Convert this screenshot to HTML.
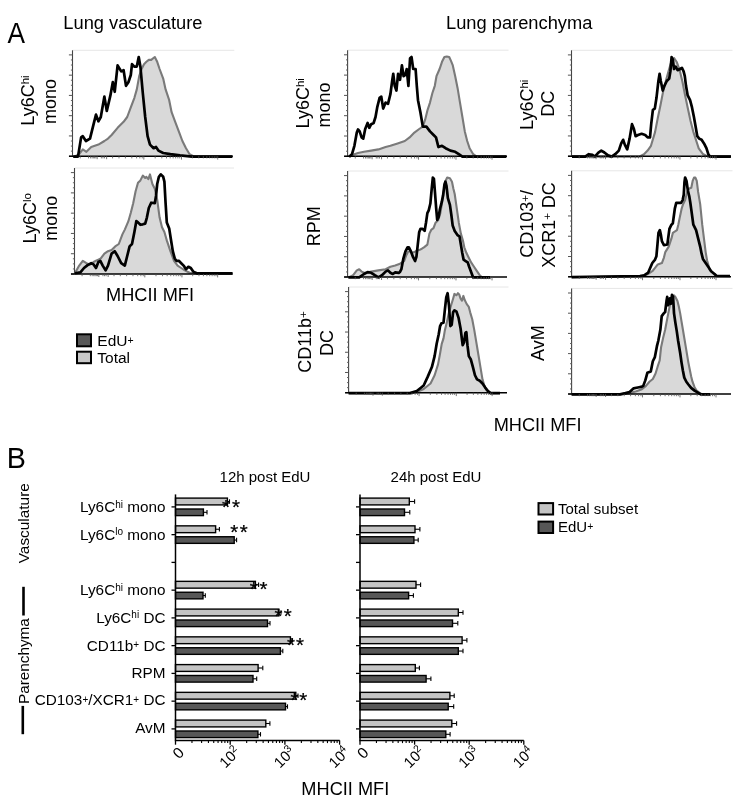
<!DOCTYPE html>
<html><head><meta charset="utf-8"><style>
html,body{margin:0;padding:0;background:#fff;}
body{width:750px;height:804px;overflow:hidden;}
svg{display:block;filter:grayscale(1);}
</style></head><body>
<svg width="750" height="804" viewBox="0 0 750 804">
<rect width="750" height="804" fill="#fff"/>
<line x1="72.5" y1="50.3" x2="234.3" y2="50.3" stroke="#e6e6e6" stroke-width="1"/>
<polygon points="74.4,156.6 79.2,154.2 82.8,149.4 86.4,151.8 91.2,147 98.4,144.6 104.4,141 108,138.6 111.6,135 117.6,127.8 123.6,121.8 127.2,117 130.8,107.4 134.4,97.8 136.8,89.4 139.2,76.2 141.6,69 144,64.2 146.4,61.8 148.8,59.88 151.2,59.88 154.8,57 157.2,61.8 159.6,69 163.2,78.6 165.6,89.4 169.2,100.2 171.6,112.2 175.2,121.8 178.8,131.4 182.4,141 186,148.2 189.6,154.2 194.4,156.6 232.32,156.6 232.32,156.2 74.4,156.2" fill="#d9d9d9" stroke="none"/>
<polyline points="74.4,156.6 79.2,154.2 82.8,149.4 86.4,151.8 91.2,147 98.4,144.6 104.4,141 108,138.6 111.6,135 117.6,127.8 123.6,121.8 127.2,117 130.8,107.4 134.4,97.8 136.8,89.4 139.2,76.2 141.6,69 144,64.2 146.4,61.8 148.8,59.88 151.2,59.88 154.8,57 157.2,61.8 159.6,69 163.2,78.6 165.6,89.4 169.2,100.2 171.6,112.2 175.2,121.8 178.8,131.4 182.4,141 186,148.2 189.6,154.2 194.4,156.6 232.32,156.6" fill="none" stroke="#7a7a7a" stroke-width="2.1" stroke-linejoin="round"/>
<polyline points="73.2,156.6 78,156.6 81.12,137.4 82.8,136.2 85.92,141 90,138.6 93.6,124.2 96,114.6 98.4,121.32 100.8,117 104.4,96.6 106.8,111 110.4,95.4 112.8,82.2 114.72,91.8 117.6,65.4 121.2,71.4 123.6,70.2 126,85.8 128.4,82.2 130.8,75 132,64.2 134.4,66.6 136.8,66.6 138.72,57 140.4,66.6 142.8,93 145.2,117 147.6,136.2 150,144.6 153.6,148.2 156,147 158.4,150.6 163.2,153 170.4,154.2 180,155.4 192,156.6 232.32,156.6" fill="none" stroke="#000" stroke-width="2.7" stroke-linejoin="round"/>
</g>
<line x1="72.5" y1="50.3" x2="72.5" y2="156.2" stroke="#444" stroke-width="1.1"/>
<line x1="68.9" y1="156.2" x2="72.5" y2="156.2" stroke="#555" stroke-width="1"/>
<line x1="70.9" y1="151.13" x2="72.5" y2="151.13" stroke="#666" stroke-width="1"/>
<line x1="70.9" y1="146.07" x2="72.5" y2="146.07" stroke="#666" stroke-width="1"/>
<line x1="70.9" y1="141" x2="72.5" y2="141" stroke="#666" stroke-width="1"/>
<line x1="68.9" y1="135.94" x2="72.5" y2="135.94" stroke="#555" stroke-width="1"/>
<line x1="70.9" y1="130.88" x2="72.5" y2="130.88" stroke="#666" stroke-width="1"/>
<line x1="70.9" y1="125.81" x2="72.5" y2="125.81" stroke="#666" stroke-width="1"/>
<line x1="70.9" y1="120.75" x2="72.5" y2="120.75" stroke="#666" stroke-width="1"/>
<line x1="68.9" y1="115.68" x2="72.5" y2="115.68" stroke="#555" stroke-width="1"/>
<line x1="70.9" y1="110.61" x2="72.5" y2="110.61" stroke="#666" stroke-width="1"/>
<line x1="70.9" y1="105.55" x2="72.5" y2="105.55" stroke="#666" stroke-width="1"/>
<line x1="70.9" y1="100.48" x2="72.5" y2="100.48" stroke="#666" stroke-width="1"/>
<line x1="68.9" y1="95.42" x2="72.5" y2="95.42" stroke="#555" stroke-width="1"/>
<line x1="70.9" y1="90.35" x2="72.5" y2="90.35" stroke="#666" stroke-width="1"/>
<line x1="70.9" y1="85.29" x2="72.5" y2="85.29" stroke="#666" stroke-width="1"/>
<line x1="70.9" y1="80.22" x2="72.5" y2="80.22" stroke="#666" stroke-width="1"/>
<line x1="68.9" y1="75.16" x2="72.5" y2="75.16" stroke="#555" stroke-width="1"/>
<line x1="70.9" y1="70.09" x2="72.5" y2="70.09" stroke="#666" stroke-width="1"/>
<line x1="70.9" y1="65.03" x2="72.5" y2="65.03" stroke="#666" stroke-width="1"/>
<line x1="70.9" y1="59.96" x2="72.5" y2="59.96" stroke="#666" stroke-width="1"/>
<line x1="68.9" y1="54.9" x2="72.5" y2="54.9" stroke="#555" stroke-width="1"/>
<line x1="69" y1="156.2" x2="232.8" y2="156.2" stroke="#000" stroke-width="1.4"/>
<line x1="80.19" y1="156.2" x2="80.19" y2="158.4" stroke="#555" stroke-width="0.8"/>
<line x1="88.53" y1="156.2" x2="88.53" y2="158.4" stroke="#555" stroke-width="0.8"/>
<line x1="90.45" y1="156.2" x2="90.45" y2="158.4" stroke="#555" stroke-width="0.8"/>
<line x1="92.06" y1="156.2" x2="92.06" y2="158.4" stroke="#555" stroke-width="0.8"/>
<line x1="93.34" y1="156.2" x2="93.34" y2="158.4" stroke="#555" stroke-width="0.8"/>
<line x1="94.62" y1="156.2" x2="94.62" y2="158.4" stroke="#555" stroke-width="0.8"/>
<line x1="95.9" y1="156.2" x2="95.9" y2="158.4" stroke="#555" stroke-width="0.8"/>
<line x1="101.35" y1="156.2" x2="101.35" y2="158.4" stroke="#555" stroke-width="0.8"/>
<line x1="102.96" y1="156.2" x2="102.96" y2="158.4" stroke="#555" stroke-width="0.8"/>
<line x1="104.56" y1="156.2" x2="104.56" y2="158.4" stroke="#555" stroke-width="0.8"/>
<line x1="112.58" y1="156.2" x2="112.58" y2="158.4" stroke="#555" stroke-width="0.8"/>
<line x1="118.99" y1="156.2" x2="118.99" y2="158.4" stroke="#555" stroke-width="0.8"/>
<line x1="125.4" y1="156.2" x2="125.4" y2="158.4" stroke="#555" stroke-width="0.8"/>
<line x1="131.81" y1="156.2" x2="131.81" y2="158.4" stroke="#555" stroke-width="0.8"/>
<line x1="136.62" y1="156.2" x2="136.62" y2="158.4" stroke="#555" stroke-width="0.8"/>
<line x1="139.83" y1="156.2" x2="139.83" y2="158.4" stroke="#555" stroke-width="0.8"/>
<line x1="142.23" y1="156.2" x2="142.23" y2="158.4" stroke="#555" stroke-width="0.8"/>
<line x1="97.19" y1="156.2" x2="97.19" y2="159.2" stroke="#555" stroke-width="0.8"/>
<line x1="106.64" y1="156.2" x2="106.64" y2="159.2" stroke="#555" stroke-width="0.8"/>
<line x1="143.83" y1="156.2" x2="143.83" y2="159.6" stroke="#555" stroke-width="0.8"/>
<line x1="155.17" y1="156.2" x2="155.17" y2="158.4" stroke="#555" stroke-width="0.8"/>
<line x1="161.81" y1="156.2" x2="161.81" y2="158.4" stroke="#555" stroke-width="0.8"/>
<line x1="166.51" y1="156.2" x2="166.51" y2="158.4" stroke="#555" stroke-width="0.8"/>
<line x1="170.16" y1="156.2" x2="170.16" y2="158.4" stroke="#555" stroke-width="0.8"/>
<line x1="173.15" y1="156.2" x2="173.15" y2="158.4" stroke="#555" stroke-width="0.8"/>
<line x1="175.67" y1="156.2" x2="175.67" y2="158.4" stroke="#555" stroke-width="0.8"/>
<line x1="177.85" y1="156.2" x2="177.85" y2="158.4" stroke="#555" stroke-width="0.8"/>
<line x1="179.78" y1="156.2" x2="179.78" y2="158.4" stroke="#555" stroke-width="0.8"/>
<line x1="181.5" y1="156.2" x2="181.5" y2="159.6" stroke="#555" stroke-width="0.8"/>
<line x1="192.41" y1="156.2" x2="192.41" y2="158.4" stroke="#555" stroke-width="0.8"/>
<line x1="198.79" y1="156.2" x2="198.79" y2="158.4" stroke="#555" stroke-width="0.8"/>
<line x1="203.32" y1="156.2" x2="203.32" y2="158.4" stroke="#555" stroke-width="0.8"/>
<line x1="206.83" y1="156.2" x2="206.83" y2="158.4" stroke="#555" stroke-width="0.8"/>
<line x1="209.69" y1="156.2" x2="209.69" y2="158.4" stroke="#555" stroke-width="0.8"/>
<line x1="212.12" y1="156.2" x2="212.12" y2="158.4" stroke="#555" stroke-width="0.8"/>
<line x1="214.22" y1="156.2" x2="214.22" y2="158.4" stroke="#555" stroke-width="0.8"/>
<line x1="216.07" y1="156.2" x2="216.07" y2="158.4" stroke="#555" stroke-width="0.8"/>
<line x1="217.73" y1="156.2" x2="217.73" y2="159.6" stroke="#555" stroke-width="0.8"/>
<line x1="74.5" y1="168" x2="234" y2="168" stroke="#e6e6e6" stroke-width="1"/>
<polygon points="74.88,273.28 79.2,265.6 82.8,260.8 86.4,263.2 90,264.4 93.6,262 96,260.8 98.4,259.6 100.8,258.4 104.4,253.6 108,251.2 111.6,250 115.2,246.4 118.8,244 122.4,234.4 124.8,229.6 128.4,221.2 130.8,212.8 133.2,203.2 135.6,191.2 138,182.8 140.4,180.4 142.8,175.6 145.2,178 146.4,176.8 148.32,179.2 150,174.4 152.4,184 154.8,188.8 157.2,199.6 159.6,217.6 162,227.2 164.4,232 166.8,240.4 170.4,251.2 174,260.8 177.6,265.6 181.2,268 184.8,270.4 189.6,272.8 194.4,273.28 232.5,273.28 232.5,274 74.88,274" fill="#d9d9d9" stroke="none"/>
<polyline points="74.88,273.28 79.2,265.6 82.8,260.8 86.4,263.2 90,264.4 93.6,262 96,260.8 98.4,259.6 100.8,258.4 104.4,253.6 108,251.2 111.6,250 115.2,246.4 118.8,244 122.4,234.4 124.8,229.6 128.4,221.2 130.8,212.8 133.2,203.2 135.6,191.2 138,182.8 140.4,180.4 142.8,175.6 145.2,178 146.4,176.8 148.32,179.2 150,174.4 152.4,184 154.8,188.8 157.2,199.6 159.6,217.6 162,227.2 164.4,232 166.8,240.4 170.4,251.2 174,260.8 177.6,265.6 181.2,268 184.8,270.4 189.6,272.8 194.4,273.28 232.5,273.28" fill="none" stroke="#7a7a7a" stroke-width="2.1" stroke-linejoin="round"/>
<polyline points="74.88,273.28 80.4,272.32 84,268 87.6,265.12 91.2,263.2 93.6,264.4 96,268 98.4,262 100.32,260.8 102.72,265.6 105.6,270.4 108,265.6 111.6,253.6 114.72,251.2 117.6,256 121.2,263.2 124.8,265.6 127.2,256 129.6,246.4 132,244 134.4,232 136.32,221.2 138,222.4 140.4,224.8 142.8,224.32 145.2,223.6 146.88,217.6 148.8,208 151.2,202.72 154.8,203.2 156,196 157.2,184 158.88,176.8 160.8,174.4 163.2,176.8 164.4,181.6 165.6,203.2 166.8,222.4 169.2,228.4 170.88,239.2 172.8,251.2 174.72,258.4 176.4,260.8 178.8,260.8 181.2,263.2 183.6,265.6 186,269.2 188.4,266.8 190.8,268 193.2,271.6 196.8,273.28 232.5,273.28" fill="none" stroke="#000" stroke-width="2.7" stroke-linejoin="round"/>
</g>
<line x1="74.5" y1="168" x2="74.5" y2="274" stroke="#444" stroke-width="1.1"/>
<line x1="70.9" y1="274" x2="74.5" y2="274" stroke="#555" stroke-width="1"/>
<line x1="72.9" y1="268.93" x2="74.5" y2="268.93" stroke="#666" stroke-width="1"/>
<line x1="72.9" y1="263.86" x2="74.5" y2="263.86" stroke="#666" stroke-width="1"/>
<line x1="72.9" y1="258.79" x2="74.5" y2="258.79" stroke="#666" stroke-width="1"/>
<line x1="70.9" y1="253.72" x2="74.5" y2="253.72" stroke="#555" stroke-width="1"/>
<line x1="72.9" y1="248.65" x2="74.5" y2="248.65" stroke="#666" stroke-width="1"/>
<line x1="72.9" y1="243.58" x2="74.5" y2="243.58" stroke="#666" stroke-width="1"/>
<line x1="72.9" y1="238.51" x2="74.5" y2="238.51" stroke="#666" stroke-width="1"/>
<line x1="70.9" y1="233.44" x2="74.5" y2="233.44" stroke="#555" stroke-width="1"/>
<line x1="72.9" y1="228.37" x2="74.5" y2="228.37" stroke="#666" stroke-width="1"/>
<line x1="72.9" y1="223.3" x2="74.5" y2="223.3" stroke="#666" stroke-width="1"/>
<line x1="72.9" y1="218.23" x2="74.5" y2="218.23" stroke="#666" stroke-width="1"/>
<line x1="70.9" y1="213.16" x2="74.5" y2="213.16" stroke="#555" stroke-width="1"/>
<line x1="72.9" y1="208.09" x2="74.5" y2="208.09" stroke="#666" stroke-width="1"/>
<line x1="72.9" y1="203.02" x2="74.5" y2="203.02" stroke="#666" stroke-width="1"/>
<line x1="72.9" y1="197.95" x2="74.5" y2="197.95" stroke="#666" stroke-width="1"/>
<line x1="70.9" y1="192.88" x2="74.5" y2="192.88" stroke="#555" stroke-width="1"/>
<line x1="72.9" y1="187.81" x2="74.5" y2="187.81" stroke="#666" stroke-width="1"/>
<line x1="72.9" y1="182.74" x2="74.5" y2="182.74" stroke="#666" stroke-width="1"/>
<line x1="72.9" y1="177.67" x2="74.5" y2="177.67" stroke="#666" stroke-width="1"/>
<line x1="70.9" y1="172.6" x2="74.5" y2="172.6" stroke="#555" stroke-width="1"/>
<line x1="71" y1="274" x2="232.5" y2="274" stroke="#000" stroke-width="1.4"/>
<line x1="82.08" y1="274" x2="82.08" y2="276.2" stroke="#555" stroke-width="0.8"/>
<line x1="90.3" y1="274" x2="90.3" y2="276.2" stroke="#555" stroke-width="0.8"/>
<line x1="92.2" y1="274" x2="92.2" y2="276.2" stroke="#555" stroke-width="0.8"/>
<line x1="93.78" y1="274" x2="93.78" y2="276.2" stroke="#555" stroke-width="0.8"/>
<line x1="95.04" y1="274" x2="95.04" y2="276.2" stroke="#555" stroke-width="0.8"/>
<line x1="96.3" y1="274" x2="96.3" y2="276.2" stroke="#555" stroke-width="0.8"/>
<line x1="97.57" y1="274" x2="97.57" y2="276.2" stroke="#555" stroke-width="0.8"/>
<line x1="102.94" y1="274" x2="102.94" y2="276.2" stroke="#555" stroke-width="0.8"/>
<line x1="104.52" y1="274" x2="104.52" y2="276.2" stroke="#555" stroke-width="0.8"/>
<line x1="106.1" y1="274" x2="106.1" y2="276.2" stroke="#555" stroke-width="0.8"/>
<line x1="114" y1="274" x2="114" y2="276.2" stroke="#555" stroke-width="0.8"/>
<line x1="120.32" y1="274" x2="120.32" y2="276.2" stroke="#555" stroke-width="0.8"/>
<line x1="126.64" y1="274" x2="126.64" y2="276.2" stroke="#555" stroke-width="0.8"/>
<line x1="132.96" y1="274" x2="132.96" y2="276.2" stroke="#555" stroke-width="0.8"/>
<line x1="137.7" y1="274" x2="137.7" y2="276.2" stroke="#555" stroke-width="0.8"/>
<line x1="140.86" y1="274" x2="140.86" y2="276.2" stroke="#555" stroke-width="0.8"/>
<line x1="143.23" y1="274" x2="143.23" y2="276.2" stroke="#555" stroke-width="0.8"/>
<line x1="98.83" y1="274" x2="98.83" y2="277" stroke="#555" stroke-width="0.8"/>
<line x1="108.15" y1="274" x2="108.15" y2="277" stroke="#555" stroke-width="0.8"/>
<line x1="144.81" y1="274" x2="144.81" y2="277.4" stroke="#555" stroke-width="0.8"/>
<line x1="155.99" y1="274" x2="155.99" y2="276.2" stroke="#555" stroke-width="0.8"/>
<line x1="162.53" y1="274" x2="162.53" y2="276.2" stroke="#555" stroke-width="0.8"/>
<line x1="167.16" y1="274" x2="167.16" y2="276.2" stroke="#555" stroke-width="0.8"/>
<line x1="170.76" y1="274" x2="170.76" y2="276.2" stroke="#555" stroke-width="0.8"/>
<line x1="173.7" y1="274" x2="173.7" y2="276.2" stroke="#555" stroke-width="0.8"/>
<line x1="176.19" y1="274" x2="176.19" y2="276.2" stroke="#555" stroke-width="0.8"/>
<line x1="178.34" y1="274" x2="178.34" y2="276.2" stroke="#555" stroke-width="0.8"/>
<line x1="180.24" y1="274" x2="180.24" y2="276.2" stroke="#555" stroke-width="0.8"/>
<line x1="181.94" y1="274" x2="181.94" y2="277.4" stroke="#555" stroke-width="0.8"/>
<line x1="192.69" y1="274" x2="192.69" y2="276.2" stroke="#555" stroke-width="0.8"/>
<line x1="198.98" y1="274" x2="198.98" y2="276.2" stroke="#555" stroke-width="0.8"/>
<line x1="203.44" y1="274" x2="203.44" y2="276.2" stroke="#555" stroke-width="0.8"/>
<line x1="206.9" y1="274" x2="206.9" y2="276.2" stroke="#555" stroke-width="0.8"/>
<line x1="209.73" y1="274" x2="209.73" y2="276.2" stroke="#555" stroke-width="0.8"/>
<line x1="212.12" y1="274" x2="212.12" y2="276.2" stroke="#555" stroke-width="0.8"/>
<line x1="214.19" y1="274" x2="214.19" y2="276.2" stroke="#555" stroke-width="0.8"/>
<line x1="216.01" y1="274" x2="216.01" y2="276.2" stroke="#555" stroke-width="0.8"/>
<line x1="217.65" y1="274" x2="217.65" y2="277.4" stroke="#555" stroke-width="0.8"/>
<line x1="347.6" y1="50.2" x2="508.5" y2="50.2" stroke="#e6e6e6" stroke-width="1"/>
<polygon points="349.12,156.7 354.4,154.2 358,153 364,151.8 371.2,150.6 378.4,149.4 385.6,147 390.4,145.8 397.6,143.4 404.8,141 409.6,137.4 414.4,132.6 419.2,129 422.8,126.6 425.2,119.4 427.6,109.8 430,102.6 432.4,93 434.8,85.8 436.48,76.2 439.6,69 442,61.8 444.4,57 446.8,56.52 449.2,57 450.88,60.6 452.8,65.4 455.2,76.2 457.6,88.2 460,102.6 462.4,117 464.8,131.4 467.2,141 469.6,148.2 473.2,154.2 476.8,156.7 506.32,156.7 506.32,156.3 349.12,156.3" fill="#d9d9d9" stroke="none"/>
<polyline points="349.12,156.7 354.4,154.2 358,153 364,151.8 371.2,150.6 378.4,149.4 385.6,147 390.4,145.8 397.6,143.4 404.8,141 409.6,137.4 414.4,132.6 419.2,129 422.8,126.6 425.2,119.4 427.6,109.8 430,102.6 432.4,93 434.8,85.8 436.48,76.2 439.6,69 442,61.8 444.4,57 446.8,56.52 449.2,57 450.88,60.6 452.8,65.4 455.2,76.2 457.6,88.2 460,102.6 462.4,117 464.8,131.4 467.2,141 469.6,148.2 473.2,154.2 476.8,156.7 506.32,156.7" fill="none" stroke="#7a7a7a" stroke-width="2.1" stroke-linejoin="round"/>
<polyline points="349.12,156.7 352,154.2 354.4,145.8 356.8,132.6 358,129.48 359.68,131.4 361.6,137.4 363.28,138.6 365.2,129 367.6,123 369.28,127.8 371.2,124.2 373.6,123 375.52,117 377.2,107.4 379.6,97.8 381.28,96.6 383.2,108.6 385.6,102.6 388,103.8 390.4,94.2 392.32,79.8 393.28,73.8 394.72,85.8 396.4,90.6 398.08,73.8 400,79.8 401.92,65.4 403.6,76.2 405.28,75 406.72,69 408.4,85.8 410.08,58.2 411.52,57 413.2,69 415.6,69 416.8,85.8 418,100.2 420.4,112.2 422.8,126.6 426.4,126.6 430,131.4 433.6,135 436,137.4 438.4,147 442,145.8 445.6,148.2 450.4,150.6 455.2,151.8 458.8,154.2 462.4,156.7 506.32,156.7" fill="none" stroke="#000" stroke-width="2.7" stroke-linejoin="round"/>
</g>
<line x1="347.6" y1="50.2" x2="347.6" y2="156.3" stroke="#444" stroke-width="1.1"/>
<line x1="344" y1="156.3" x2="347.6" y2="156.3" stroke="#555" stroke-width="1"/>
<line x1="346" y1="151.23" x2="347.6" y2="151.23" stroke="#666" stroke-width="1"/>
<line x1="346" y1="146.15" x2="347.6" y2="146.15" stroke="#666" stroke-width="1"/>
<line x1="346" y1="141.08" x2="347.6" y2="141.08" stroke="#666" stroke-width="1"/>
<line x1="344" y1="136" x2="347.6" y2="136" stroke="#555" stroke-width="1"/>
<line x1="346" y1="130.93" x2="347.6" y2="130.93" stroke="#666" stroke-width="1"/>
<line x1="346" y1="125.85" x2="347.6" y2="125.85" stroke="#666" stroke-width="1"/>
<line x1="346" y1="120.77" x2="347.6" y2="120.77" stroke="#666" stroke-width="1"/>
<line x1="344" y1="115.7" x2="347.6" y2="115.7" stroke="#555" stroke-width="1"/>
<line x1="346" y1="110.62" x2="347.6" y2="110.62" stroke="#666" stroke-width="1"/>
<line x1="346" y1="105.55" x2="347.6" y2="105.55" stroke="#666" stroke-width="1"/>
<line x1="346" y1="100.47" x2="347.6" y2="100.47" stroke="#666" stroke-width="1"/>
<line x1="344" y1="95.4" x2="347.6" y2="95.4" stroke="#555" stroke-width="1"/>
<line x1="346" y1="90.33" x2="347.6" y2="90.33" stroke="#666" stroke-width="1"/>
<line x1="346" y1="85.25" x2="347.6" y2="85.25" stroke="#666" stroke-width="1"/>
<line x1="346" y1="80.17" x2="347.6" y2="80.17" stroke="#666" stroke-width="1"/>
<line x1="344" y1="75.1" x2="347.6" y2="75.1" stroke="#555" stroke-width="1"/>
<line x1="346" y1="70.02" x2="347.6" y2="70.02" stroke="#666" stroke-width="1"/>
<line x1="346" y1="64.95" x2="347.6" y2="64.95" stroke="#666" stroke-width="1"/>
<line x1="346" y1="59.87" x2="347.6" y2="59.87" stroke="#666" stroke-width="1"/>
<line x1="344" y1="54.8" x2="347.6" y2="54.8" stroke="#555" stroke-width="1"/>
<line x1="344.1" y1="156.3" x2="507" y2="156.3" stroke="#000" stroke-width="1.4"/>
<line x1="355.25" y1="156.3" x2="355.25" y2="158.5" stroke="#555" stroke-width="0.8"/>
<line x1="363.54" y1="156.3" x2="363.54" y2="158.5" stroke="#555" stroke-width="0.8"/>
<line x1="365.45" y1="156.3" x2="365.45" y2="158.5" stroke="#555" stroke-width="0.8"/>
<line x1="367.05" y1="156.3" x2="367.05" y2="158.5" stroke="#555" stroke-width="0.8"/>
<line x1="368.32" y1="156.3" x2="368.32" y2="158.5" stroke="#555" stroke-width="0.8"/>
<line x1="369.6" y1="156.3" x2="369.6" y2="158.5" stroke="#555" stroke-width="0.8"/>
<line x1="370.87" y1="156.3" x2="370.87" y2="158.5" stroke="#555" stroke-width="0.8"/>
<line x1="376.29" y1="156.3" x2="376.29" y2="158.5" stroke="#555" stroke-width="0.8"/>
<line x1="377.89" y1="156.3" x2="377.89" y2="158.5" stroke="#555" stroke-width="0.8"/>
<line x1="379.48" y1="156.3" x2="379.48" y2="158.5" stroke="#555" stroke-width="0.8"/>
<line x1="387.45" y1="156.3" x2="387.45" y2="158.5" stroke="#555" stroke-width="0.8"/>
<line x1="393.83" y1="156.3" x2="393.83" y2="158.5" stroke="#555" stroke-width="0.8"/>
<line x1="400.2" y1="156.3" x2="400.2" y2="158.5" stroke="#555" stroke-width="0.8"/>
<line x1="406.58" y1="156.3" x2="406.58" y2="158.5" stroke="#555" stroke-width="0.8"/>
<line x1="411.36" y1="156.3" x2="411.36" y2="158.5" stroke="#555" stroke-width="0.8"/>
<line x1="414.55" y1="156.3" x2="414.55" y2="158.5" stroke="#555" stroke-width="0.8"/>
<line x1="416.94" y1="156.3" x2="416.94" y2="158.5" stroke="#555" stroke-width="0.8"/>
<line x1="372.15" y1="156.3" x2="372.15" y2="159.3" stroke="#555" stroke-width="0.8"/>
<line x1="381.55" y1="156.3" x2="381.55" y2="159.3" stroke="#555" stroke-width="0.8"/>
<line x1="418.53" y1="156.3" x2="418.53" y2="159.7" stroke="#555" stroke-width="0.8"/>
<line x1="429.81" y1="156.3" x2="429.81" y2="158.5" stroke="#555" stroke-width="0.8"/>
<line x1="436.41" y1="156.3" x2="436.41" y2="158.5" stroke="#555" stroke-width="0.8"/>
<line x1="441.09" y1="156.3" x2="441.09" y2="158.5" stroke="#555" stroke-width="0.8"/>
<line x1="444.72" y1="156.3" x2="444.72" y2="158.5" stroke="#555" stroke-width="0.8"/>
<line x1="447.68" y1="156.3" x2="447.68" y2="158.5" stroke="#555" stroke-width="0.8"/>
<line x1="450.19" y1="156.3" x2="450.19" y2="158.5" stroke="#555" stroke-width="0.8"/>
<line x1="452.36" y1="156.3" x2="452.36" y2="158.5" stroke="#555" stroke-width="0.8"/>
<line x1="454.28" y1="156.3" x2="454.28" y2="158.5" stroke="#555" stroke-width="0.8"/>
<line x1="455.99" y1="156.3" x2="455.99" y2="159.7" stroke="#555" stroke-width="0.8"/>
<line x1="466.84" y1="156.3" x2="466.84" y2="158.5" stroke="#555" stroke-width="0.8"/>
<line x1="473.18" y1="156.3" x2="473.18" y2="158.5" stroke="#555" stroke-width="0.8"/>
<line x1="477.68" y1="156.3" x2="477.68" y2="158.5" stroke="#555" stroke-width="0.8"/>
<line x1="481.17" y1="156.3" x2="481.17" y2="158.5" stroke="#555" stroke-width="0.8"/>
<line x1="484.02" y1="156.3" x2="484.02" y2="158.5" stroke="#555" stroke-width="0.8"/>
<line x1="486.44" y1="156.3" x2="486.44" y2="158.5" stroke="#555" stroke-width="0.8"/>
<line x1="488.53" y1="156.3" x2="488.53" y2="158.5" stroke="#555" stroke-width="0.8"/>
<line x1="490.37" y1="156.3" x2="490.37" y2="158.5" stroke="#555" stroke-width="0.8"/>
<line x1="492.02" y1="156.3" x2="492.02" y2="159.7" stroke="#555" stroke-width="0.8"/>
<line x1="347.6" y1="171" x2="508.5" y2="171" stroke="#e6e6e6" stroke-width="1"/>
<polygon points="348.4,277.4 353.2,275.2 356.8,270.4 359.2,269.2 361.6,271.6 364,272.8 366.4,272.8 371.2,271.6 378.4,270.4 385.6,269.2 390.4,266.8 395.2,265.6 400,263.74 402.05,262.38 404.1,261.01 406.16,255.54 408.21,251.43 410.26,251.43 412.31,252.8 414.36,252.12 416.41,250.75 419.15,250.07 421.88,248.7 423.94,247.33 427.36,244.6 429.41,233.65 431.46,229.55 433.51,228.18 435.56,222.71 438.3,219.98 440.35,213.14 441.72,204.93 443.77,191.25 445.14,181.68 447.19,177.57 449.92,178.26 451.98,181.68 453.34,188.52 454.71,193.99 456.08,203.56 457.45,213.14 458.81,222.71 460.87,233.65 462.92,240.49 464.29,247.33 466.34,252.8 468.39,256.91 471.12,262.38 473.86,266.48 476.6,270.58 479.33,274.69 482.07,277.4 490,277.4 490,277 348.4,277" fill="#d9d9d9" stroke="none"/>
<polyline points="348.4,277.4 353.2,275.2 356.8,270.4 359.2,269.2 361.6,271.6 364,272.8 366.4,272.8 371.2,271.6 378.4,270.4 385.6,269.2 390.4,266.8 395.2,265.6 400,263.74 402.05,262.38 404.1,261.01 406.16,255.54 408.21,251.43 410.26,251.43 412.31,252.8 414.36,252.12 416.41,250.75 419.15,250.07 421.88,248.7 423.94,247.33 427.36,244.6 429.41,233.65 431.46,229.55 433.51,228.18 435.56,222.71 438.3,219.98 440.35,213.14 441.72,204.93 443.77,191.25 445.14,181.68 447.19,177.57 449.92,178.26 451.98,181.68 453.34,188.52 454.71,193.99 456.08,203.56 457.45,213.14 458.81,222.71 460.87,233.65 462.92,240.49 464.29,247.33 466.34,252.8 468.39,256.91 471.12,262.38 473.86,266.48 476.6,270.58 479.33,274.69 482.07,277.4 490,277.4" fill="none" stroke="#7a7a7a" stroke-width="2.1" stroke-linejoin="round"/>
<polyline points="348.4,277.4 359.2,277.4 364,274 367.6,272.08 371.2,272.8 374.8,275.2 378.4,277.4 382,275.2 385.6,271.6 388,270.4 390.4,272.8 392.8,274 395.2,272.32 398.8,272.8 400,271.95 401.37,269.22 403.42,258.27 405.47,251.43 407.52,247.33 408.89,247.33 410.94,251.43 412.99,256.91 415.05,261.01 416.41,256.91 417.78,244.6 419.15,232.29 420.52,228.87 422.57,228.87 424.62,230.92 425.99,222.71 427.36,213.14 428.72,210.4 430.36,203.56 431.73,188.52 432.83,177.57 433.92,178.94 434.88,191.25 436.25,209.03 437.2,219.98 438.57,217.24 439.94,209.03 441.72,202.19 443.09,195.36 444.45,184.41 445.41,181.68 446.5,185.78 447.87,198.09 449.92,204.93 451.29,214.5 452.66,225.45 454.71,230.92 457.45,235.02 459.5,236.39 460.87,244.6 462.23,252.8 463.6,259.64 465.65,261.01 467.71,262.38 469.07,266.48 471.12,271.95 473.18,277.4 490,277.4" fill="none" stroke="#000" stroke-width="2.7" stroke-linejoin="round"/>
</g>
<line x1="347.6" y1="171" x2="347.6" y2="277" stroke="#444" stroke-width="1.1"/>
<line x1="344" y1="277" x2="347.6" y2="277" stroke="#555" stroke-width="1"/>
<line x1="346" y1="271.93" x2="347.6" y2="271.93" stroke="#666" stroke-width="1"/>
<line x1="346" y1="266.86" x2="347.6" y2="266.86" stroke="#666" stroke-width="1"/>
<line x1="346" y1="261.79" x2="347.6" y2="261.79" stroke="#666" stroke-width="1"/>
<line x1="344" y1="256.72" x2="347.6" y2="256.72" stroke="#555" stroke-width="1"/>
<line x1="346" y1="251.65" x2="347.6" y2="251.65" stroke="#666" stroke-width="1"/>
<line x1="346" y1="246.58" x2="347.6" y2="246.58" stroke="#666" stroke-width="1"/>
<line x1="346" y1="241.51" x2="347.6" y2="241.51" stroke="#666" stroke-width="1"/>
<line x1="344" y1="236.44" x2="347.6" y2="236.44" stroke="#555" stroke-width="1"/>
<line x1="346" y1="231.37" x2="347.6" y2="231.37" stroke="#666" stroke-width="1"/>
<line x1="346" y1="226.3" x2="347.6" y2="226.3" stroke="#666" stroke-width="1"/>
<line x1="346" y1="221.23" x2="347.6" y2="221.23" stroke="#666" stroke-width="1"/>
<line x1="344" y1="216.16" x2="347.6" y2="216.16" stroke="#555" stroke-width="1"/>
<line x1="346" y1="211.09" x2="347.6" y2="211.09" stroke="#666" stroke-width="1"/>
<line x1="346" y1="206.02" x2="347.6" y2="206.02" stroke="#666" stroke-width="1"/>
<line x1="346" y1="200.95" x2="347.6" y2="200.95" stroke="#666" stroke-width="1"/>
<line x1="344" y1="195.88" x2="347.6" y2="195.88" stroke="#555" stroke-width="1"/>
<line x1="346" y1="190.81" x2="347.6" y2="190.81" stroke="#666" stroke-width="1"/>
<line x1="346" y1="185.74" x2="347.6" y2="185.74" stroke="#666" stroke-width="1"/>
<line x1="346" y1="180.67" x2="347.6" y2="180.67" stroke="#666" stroke-width="1"/>
<line x1="344" y1="175.6" x2="347.6" y2="175.6" stroke="#555" stroke-width="1"/>
<line x1="344.1" y1="277" x2="507" y2="277" stroke="#000" stroke-width="1.4"/>
<line x1="355.25" y1="277" x2="355.25" y2="279.2" stroke="#555" stroke-width="0.8"/>
<line x1="363.54" y1="277" x2="363.54" y2="279.2" stroke="#555" stroke-width="0.8"/>
<line x1="365.45" y1="277" x2="365.45" y2="279.2" stroke="#555" stroke-width="0.8"/>
<line x1="367.05" y1="277" x2="367.05" y2="279.2" stroke="#555" stroke-width="0.8"/>
<line x1="368.32" y1="277" x2="368.32" y2="279.2" stroke="#555" stroke-width="0.8"/>
<line x1="369.6" y1="277" x2="369.6" y2="279.2" stroke="#555" stroke-width="0.8"/>
<line x1="370.87" y1="277" x2="370.87" y2="279.2" stroke="#555" stroke-width="0.8"/>
<line x1="376.29" y1="277" x2="376.29" y2="279.2" stroke="#555" stroke-width="0.8"/>
<line x1="377.89" y1="277" x2="377.89" y2="279.2" stroke="#555" stroke-width="0.8"/>
<line x1="379.48" y1="277" x2="379.48" y2="279.2" stroke="#555" stroke-width="0.8"/>
<line x1="387.45" y1="277" x2="387.45" y2="279.2" stroke="#555" stroke-width="0.8"/>
<line x1="393.83" y1="277" x2="393.83" y2="279.2" stroke="#555" stroke-width="0.8"/>
<line x1="400.2" y1="277" x2="400.2" y2="279.2" stroke="#555" stroke-width="0.8"/>
<line x1="406.58" y1="277" x2="406.58" y2="279.2" stroke="#555" stroke-width="0.8"/>
<line x1="411.36" y1="277" x2="411.36" y2="279.2" stroke="#555" stroke-width="0.8"/>
<line x1="414.55" y1="277" x2="414.55" y2="279.2" stroke="#555" stroke-width="0.8"/>
<line x1="416.94" y1="277" x2="416.94" y2="279.2" stroke="#555" stroke-width="0.8"/>
<line x1="372.15" y1="277" x2="372.15" y2="280" stroke="#555" stroke-width="0.8"/>
<line x1="381.55" y1="277" x2="381.55" y2="280" stroke="#555" stroke-width="0.8"/>
<line x1="418.53" y1="277" x2="418.53" y2="280.4" stroke="#555" stroke-width="0.8"/>
<line x1="429.81" y1="277" x2="429.81" y2="279.2" stroke="#555" stroke-width="0.8"/>
<line x1="436.41" y1="277" x2="436.41" y2="279.2" stroke="#555" stroke-width="0.8"/>
<line x1="441.09" y1="277" x2="441.09" y2="279.2" stroke="#555" stroke-width="0.8"/>
<line x1="444.72" y1="277" x2="444.72" y2="279.2" stroke="#555" stroke-width="0.8"/>
<line x1="447.68" y1="277" x2="447.68" y2="279.2" stroke="#555" stroke-width="0.8"/>
<line x1="450.19" y1="277" x2="450.19" y2="279.2" stroke="#555" stroke-width="0.8"/>
<line x1="452.36" y1="277" x2="452.36" y2="279.2" stroke="#555" stroke-width="0.8"/>
<line x1="454.28" y1="277" x2="454.28" y2="279.2" stroke="#555" stroke-width="0.8"/>
<line x1="455.99" y1="277" x2="455.99" y2="280.4" stroke="#555" stroke-width="0.8"/>
<line x1="466.84" y1="277" x2="466.84" y2="279.2" stroke="#555" stroke-width="0.8"/>
<line x1="473.18" y1="277" x2="473.18" y2="279.2" stroke="#555" stroke-width="0.8"/>
<line x1="477.68" y1="277" x2="477.68" y2="279.2" stroke="#555" stroke-width="0.8"/>
<line x1="481.17" y1="277" x2="481.17" y2="279.2" stroke="#555" stroke-width="0.8"/>
<line x1="484.02" y1="277" x2="484.02" y2="279.2" stroke="#555" stroke-width="0.8"/>
<line x1="486.44" y1="277" x2="486.44" y2="279.2" stroke="#555" stroke-width="0.8"/>
<line x1="488.53" y1="277" x2="488.53" y2="279.2" stroke="#555" stroke-width="0.8"/>
<line x1="490.37" y1="277" x2="490.37" y2="279.2" stroke="#555" stroke-width="0.8"/>
<line x1="492.02" y1="277" x2="492.02" y2="280.4" stroke="#555" stroke-width="0.8"/>
<line x1="348.6" y1="287" x2="508.5" y2="287" stroke="#e6e6e6" stroke-width="1"/>
<polygon points="348.6,393.1 380,393.1 404.53,393.1 410,393.1 416.84,392.1 423.68,388.95 430.52,383.48 434.62,375.27 438.04,364.33 440.09,353.39 441.73,343.81 443.51,338.34 444.88,330.14 446.93,321.93 448.98,312.36 451.03,305.52 453.09,298.68 454.45,293.89 456.5,295.26 457.87,293.21 459.24,294.57 460.61,298.68 461.98,300.73 463.34,295.94 464.71,300.05 466.76,304.15 468.81,306.88 470.18,312.36 472.23,319.19 474.29,330.14 476.34,342.45 478.39,354.76 480.44,367.07 482.49,379.38 484.54,386.22 486.6,390.32 489.33,393.1 500,393.1 500,392.7 348.6,392.7" fill="#d9d9d9" stroke="none"/>
<polyline points="348.6,393.1 380,393.1 404.53,393.1 410,393.1 416.84,392.1 423.68,388.95 430.52,383.48 434.62,375.27 438.04,364.33 440.09,353.39 441.73,343.81 443.51,338.34 444.88,330.14 446.93,321.93 448.98,312.36 451.03,305.52 453.09,298.68 454.45,293.89 456.5,295.26 457.87,293.21 459.24,294.57 460.61,298.68 461.98,300.73 463.34,295.94 464.71,300.05 466.76,304.15 468.81,306.88 470.18,312.36 472.23,319.19 474.29,330.14 476.34,342.45 478.39,354.76 480.44,367.07 482.49,379.38 484.54,386.22 486.6,390.32 489.33,393.1 500,393.1" fill="none" stroke="#7a7a7a" stroke-width="2.1" stroke-linejoin="round"/>
<polyline points="348.6,393.1 378,393.1 401.79,393.1 407.26,393.1 410,393.1 416.84,391 423.68,385.53 427.78,376.64 431.88,367.07 434.62,356.12 436.67,343.81 438.72,334.24 440.09,326.03 441.46,323.3 443.51,322.61 444.88,309.62 446.25,297.31 447.61,293.21 448.98,305.52 450.35,326.03 451.72,324.67 453.09,312.36 454.45,310.3 456.5,311.67 458.56,317.83 460.61,328.77 462.66,345.18 464.03,342.45 465.4,332.87 466.35,332.19 467.45,345.18 468.81,356.12 470.87,359.54 472.92,367.07 474.97,375.27 477.02,379.38 479.76,380.74 482.49,383.48 485.23,387.58 487.96,391 490.7,393.1 500,393.1" fill="none" stroke="#000" stroke-width="2.7" stroke-linejoin="round"/>
</g>
<line x1="348.6" y1="287" x2="348.6" y2="392.7" stroke="#444" stroke-width="1.1"/>
<line x1="345" y1="392.7" x2="348.6" y2="392.7" stroke="#555" stroke-width="1"/>
<line x1="347" y1="387.64" x2="348.6" y2="387.64" stroke="#666" stroke-width="1"/>
<line x1="347" y1="382.59" x2="348.6" y2="382.59" stroke="#666" stroke-width="1"/>
<line x1="347" y1="377.53" x2="348.6" y2="377.53" stroke="#666" stroke-width="1"/>
<line x1="345" y1="372.48" x2="348.6" y2="372.48" stroke="#555" stroke-width="1"/>
<line x1="347" y1="367.43" x2="348.6" y2="367.43" stroke="#666" stroke-width="1"/>
<line x1="347" y1="362.37" x2="348.6" y2="362.37" stroke="#666" stroke-width="1"/>
<line x1="347" y1="357.31" x2="348.6" y2="357.31" stroke="#666" stroke-width="1"/>
<line x1="345" y1="352.26" x2="348.6" y2="352.26" stroke="#555" stroke-width="1"/>
<line x1="347" y1="347.2" x2="348.6" y2="347.2" stroke="#666" stroke-width="1"/>
<line x1="347" y1="342.15" x2="348.6" y2="342.15" stroke="#666" stroke-width="1"/>
<line x1="347" y1="337.09" x2="348.6" y2="337.09" stroke="#666" stroke-width="1"/>
<line x1="345" y1="332.04" x2="348.6" y2="332.04" stroke="#555" stroke-width="1"/>
<line x1="347" y1="326.98" x2="348.6" y2="326.98" stroke="#666" stroke-width="1"/>
<line x1="347" y1="321.93" x2="348.6" y2="321.93" stroke="#666" stroke-width="1"/>
<line x1="347" y1="316.87" x2="348.6" y2="316.87" stroke="#666" stroke-width="1"/>
<line x1="345" y1="311.82" x2="348.6" y2="311.82" stroke="#555" stroke-width="1"/>
<line x1="347" y1="306.76" x2="348.6" y2="306.76" stroke="#666" stroke-width="1"/>
<line x1="347" y1="301.71" x2="348.6" y2="301.71" stroke="#666" stroke-width="1"/>
<line x1="347" y1="296.65" x2="348.6" y2="296.65" stroke="#666" stroke-width="1"/>
<line x1="345" y1="291.6" x2="348.6" y2="291.6" stroke="#555" stroke-width="1"/>
<line x1="345.1" y1="392.7" x2="507" y2="392.7" stroke="#000" stroke-width="1.4"/>
<line x1="356.2" y1="392.7" x2="356.2" y2="394.9" stroke="#555" stroke-width="0.8"/>
<line x1="364.44" y1="392.7" x2="364.44" y2="394.9" stroke="#555" stroke-width="0.8"/>
<line x1="366.34" y1="392.7" x2="366.34" y2="394.9" stroke="#555" stroke-width="0.8"/>
<line x1="367.92" y1="392.7" x2="367.92" y2="394.9" stroke="#555" stroke-width="0.8"/>
<line x1="369.19" y1="392.7" x2="369.19" y2="394.9" stroke="#555" stroke-width="0.8"/>
<line x1="370.46" y1="392.7" x2="370.46" y2="394.9" stroke="#555" stroke-width="0.8"/>
<line x1="371.73" y1="392.7" x2="371.73" y2="394.9" stroke="#555" stroke-width="0.8"/>
<line x1="377.11" y1="392.7" x2="377.11" y2="394.9" stroke="#555" stroke-width="0.8"/>
<line x1="378.7" y1="392.7" x2="378.7" y2="394.9" stroke="#555" stroke-width="0.8"/>
<line x1="380.28" y1="392.7" x2="380.28" y2="394.9" stroke="#555" stroke-width="0.8"/>
<line x1="388.2" y1="392.7" x2="388.2" y2="394.9" stroke="#555" stroke-width="0.8"/>
<line x1="394.54" y1="392.7" x2="394.54" y2="394.9" stroke="#555" stroke-width="0.8"/>
<line x1="400.87" y1="392.7" x2="400.87" y2="394.9" stroke="#555" stroke-width="0.8"/>
<line x1="407.21" y1="392.7" x2="407.21" y2="394.9" stroke="#555" stroke-width="0.8"/>
<line x1="411.96" y1="392.7" x2="411.96" y2="394.9" stroke="#555" stroke-width="0.8"/>
<line x1="415.13" y1="392.7" x2="415.13" y2="394.9" stroke="#555" stroke-width="0.8"/>
<line x1="417.5" y1="392.7" x2="417.5" y2="394.9" stroke="#555" stroke-width="0.8"/>
<line x1="372.99" y1="392.7" x2="372.99" y2="395.7" stroke="#555" stroke-width="0.8"/>
<line x1="382.34" y1="392.7" x2="382.34" y2="395.7" stroke="#555" stroke-width="0.8"/>
<line x1="419.09" y1="392.7" x2="419.09" y2="396.1" stroke="#555" stroke-width="0.8"/>
<line x1="430.29" y1="392.7" x2="430.29" y2="394.9" stroke="#555" stroke-width="0.8"/>
<line x1="436.85" y1="392.7" x2="436.85" y2="394.9" stroke="#555" stroke-width="0.8"/>
<line x1="441.5" y1="392.7" x2="441.5" y2="394.9" stroke="#555" stroke-width="0.8"/>
<line x1="445.11" y1="392.7" x2="445.11" y2="394.9" stroke="#555" stroke-width="0.8"/>
<line x1="448.05" y1="392.7" x2="448.05" y2="394.9" stroke="#555" stroke-width="0.8"/>
<line x1="450.55" y1="392.7" x2="450.55" y2="394.9" stroke="#555" stroke-width="0.8"/>
<line x1="452.7" y1="392.7" x2="452.7" y2="394.9" stroke="#555" stroke-width="0.8"/>
<line x1="454.61" y1="392.7" x2="454.61" y2="394.9" stroke="#555" stroke-width="0.8"/>
<line x1="456.31" y1="392.7" x2="456.31" y2="396.1" stroke="#555" stroke-width="0.8"/>
<line x1="467.09" y1="392.7" x2="467.09" y2="394.9" stroke="#555" stroke-width="0.8"/>
<line x1="473.39" y1="392.7" x2="473.39" y2="394.9" stroke="#555" stroke-width="0.8"/>
<line x1="477.86" y1="392.7" x2="477.86" y2="394.9" stroke="#555" stroke-width="0.8"/>
<line x1="481.33" y1="392.7" x2="481.33" y2="394.9" stroke="#555" stroke-width="0.8"/>
<line x1="484.17" y1="392.7" x2="484.17" y2="394.9" stroke="#555" stroke-width="0.8"/>
<line x1="486.57" y1="392.7" x2="486.57" y2="394.9" stroke="#555" stroke-width="0.8"/>
<line x1="488.64" y1="392.7" x2="488.64" y2="394.9" stroke="#555" stroke-width="0.8"/>
<line x1="490.47" y1="392.7" x2="490.47" y2="394.9" stroke="#555" stroke-width="0.8"/>
<line x1="492.11" y1="392.7" x2="492.11" y2="396.1" stroke="#555" stroke-width="0.8"/>
<line x1="571.5" y1="50.3" x2="732.5" y2="50.3" stroke="#e6e6e6" stroke-width="1"/>
<polygon points="572,156.6 632,156.6 639.2,156.6 644,154.2 647.6,150.6 650.96,145.8 655.04,132.12 657.68,118.44 660.56,104.76 663.2,91.08 666.08,80.04 668.72,70.44 671.6,60.84 672.8,58.92 674.24,58.2 676.88,62.28 679.76,70.44 682.4,81.48 685.04,95.16 687.92,108.84 690.56,121.08 693.44,132.12 696.08,140.28 698.72,148.44 702.8,153.96 708.32,156.6 730.88,156.6 730.88,156.2 572,156.2" fill="#d9d9d9" stroke="none"/>
<polyline points="572,156.6 632,156.6 639.2,156.6 644,154.2 647.6,150.6 650.96,145.8 655.04,132.12 657.68,118.44 660.56,104.76 663.2,91.08 666.08,80.04 668.72,70.44 671.6,60.84 672.8,58.92 674.24,58.2 676.88,62.28 679.76,70.44 682.4,81.48 685.04,95.16 687.92,108.84 690.56,121.08 693.44,132.12 696.08,140.28 698.72,148.44 702.8,153.96 708.32,156.6 730.88,156.6" fill="none" stroke="#7a7a7a" stroke-width="2.1" stroke-linejoin="round"/>
<polyline points="572,156.6 585.2,156.6 588.8,154.2 592.4,154.92 594.8,156.6 598.4,152.52 601.28,150.6 604.4,152.52 608,155.4 611.6,156.6 615.2,154.2 618.8,150.6 621.2,143.4 623.12,139.8 624.8,144.6 627.2,149.4 629.6,138.6 632,124.2 633.92,129 635.6,136.2 638,135 641.6,133.8 645.2,135 647.6,137.4 650,137.4 651.2,124.2 652.88,109.8 654.8,108.6 656.48,97.8 658.4,81 659.6,73.8 660.8,81 662.72,90.6 664.4,85.8 666.8,81 669.2,78.6 670.4,71.4 671.6,57 672.8,59.4 674,69 675.68,66.6 677.6,70.2 680,69 681.92,67.8 683.6,71.4 684.8,76.2 686,85.8 687.68,95.4 690.08,100.2 692,107.4 693.92,117 695.6,126.6 697.28,136.2 699.2,138.6 701.6,139.8 704,143.4 706.4,148.2 708.32,154.2 710,156.6 730.88,156.6" fill="none" stroke="#000" stroke-width="2.7" stroke-linejoin="round"/>
</g>
<line x1="571.5" y1="50.3" x2="571.5" y2="156.2" stroke="#444" stroke-width="1.1"/>
<line x1="567.9" y1="156.2" x2="571.5" y2="156.2" stroke="#555" stroke-width="1"/>
<line x1="569.9" y1="151.13" x2="571.5" y2="151.13" stroke="#666" stroke-width="1"/>
<line x1="569.9" y1="146.07" x2="571.5" y2="146.07" stroke="#666" stroke-width="1"/>
<line x1="569.9" y1="141" x2="571.5" y2="141" stroke="#666" stroke-width="1"/>
<line x1="567.9" y1="135.94" x2="571.5" y2="135.94" stroke="#555" stroke-width="1"/>
<line x1="569.9" y1="130.88" x2="571.5" y2="130.88" stroke="#666" stroke-width="1"/>
<line x1="569.9" y1="125.81" x2="571.5" y2="125.81" stroke="#666" stroke-width="1"/>
<line x1="569.9" y1="120.75" x2="571.5" y2="120.75" stroke="#666" stroke-width="1"/>
<line x1="567.9" y1="115.68" x2="571.5" y2="115.68" stroke="#555" stroke-width="1"/>
<line x1="569.9" y1="110.61" x2="571.5" y2="110.61" stroke="#666" stroke-width="1"/>
<line x1="569.9" y1="105.55" x2="571.5" y2="105.55" stroke="#666" stroke-width="1"/>
<line x1="569.9" y1="100.48" x2="571.5" y2="100.48" stroke="#666" stroke-width="1"/>
<line x1="567.9" y1="95.42" x2="571.5" y2="95.42" stroke="#555" stroke-width="1"/>
<line x1="569.9" y1="90.35" x2="571.5" y2="90.35" stroke="#666" stroke-width="1"/>
<line x1="569.9" y1="85.29" x2="571.5" y2="85.29" stroke="#666" stroke-width="1"/>
<line x1="569.9" y1="80.22" x2="571.5" y2="80.22" stroke="#666" stroke-width="1"/>
<line x1="567.9" y1="75.16" x2="571.5" y2="75.16" stroke="#555" stroke-width="1"/>
<line x1="569.9" y1="70.09" x2="571.5" y2="70.09" stroke="#666" stroke-width="1"/>
<line x1="569.9" y1="65.03" x2="571.5" y2="65.03" stroke="#666" stroke-width="1"/>
<line x1="569.9" y1="59.96" x2="571.5" y2="59.96" stroke="#666" stroke-width="1"/>
<line x1="567.9" y1="54.9" x2="571.5" y2="54.9" stroke="#555" stroke-width="1"/>
<line x1="568" y1="156.2" x2="731" y2="156.2" stroke="#000" stroke-width="1.4"/>
<line x1="579.16" y1="156.2" x2="579.16" y2="158.4" stroke="#555" stroke-width="0.8"/>
<line x1="587.45" y1="156.2" x2="587.45" y2="158.4" stroke="#555" stroke-width="0.8"/>
<line x1="589.36" y1="156.2" x2="589.36" y2="158.4" stroke="#555" stroke-width="0.8"/>
<line x1="590.96" y1="156.2" x2="590.96" y2="158.4" stroke="#555" stroke-width="0.8"/>
<line x1="592.24" y1="156.2" x2="592.24" y2="158.4" stroke="#555" stroke-width="0.8"/>
<line x1="593.51" y1="156.2" x2="593.51" y2="158.4" stroke="#555" stroke-width="0.8"/>
<line x1="594.79" y1="156.2" x2="594.79" y2="158.4" stroke="#555" stroke-width="0.8"/>
<line x1="600.21" y1="156.2" x2="600.21" y2="158.4" stroke="#555" stroke-width="0.8"/>
<line x1="601.8" y1="156.2" x2="601.8" y2="158.4" stroke="#555" stroke-width="0.8"/>
<line x1="603.4" y1="156.2" x2="603.4" y2="158.4" stroke="#555" stroke-width="0.8"/>
<line x1="611.38" y1="156.2" x2="611.38" y2="158.4" stroke="#555" stroke-width="0.8"/>
<line x1="617.75" y1="156.2" x2="617.75" y2="158.4" stroke="#555" stroke-width="0.8"/>
<line x1="624.13" y1="156.2" x2="624.13" y2="158.4" stroke="#555" stroke-width="0.8"/>
<line x1="630.51" y1="156.2" x2="630.51" y2="158.4" stroke="#555" stroke-width="0.8"/>
<line x1="635.3" y1="156.2" x2="635.3" y2="158.4" stroke="#555" stroke-width="0.8"/>
<line x1="638.49" y1="156.2" x2="638.49" y2="158.4" stroke="#555" stroke-width="0.8"/>
<line x1="640.88" y1="156.2" x2="640.88" y2="158.4" stroke="#555" stroke-width="0.8"/>
<line x1="596.06" y1="156.2" x2="596.06" y2="159.2" stroke="#555" stroke-width="0.8"/>
<line x1="605.47" y1="156.2" x2="605.47" y2="159.2" stroke="#555" stroke-width="0.8"/>
<line x1="642.48" y1="156.2" x2="642.48" y2="159.6" stroke="#555" stroke-width="0.8"/>
<line x1="653.76" y1="156.2" x2="653.76" y2="158.4" stroke="#555" stroke-width="0.8"/>
<line x1="660.36" y1="156.2" x2="660.36" y2="158.4" stroke="#555" stroke-width="0.8"/>
<line x1="665.04" y1="156.2" x2="665.04" y2="158.4" stroke="#555" stroke-width="0.8"/>
<line x1="668.68" y1="156.2" x2="668.68" y2="158.4" stroke="#555" stroke-width="0.8"/>
<line x1="671.64" y1="156.2" x2="671.64" y2="158.4" stroke="#555" stroke-width="0.8"/>
<line x1="674.15" y1="156.2" x2="674.15" y2="158.4" stroke="#555" stroke-width="0.8"/>
<line x1="676.33" y1="156.2" x2="676.33" y2="158.4" stroke="#555" stroke-width="0.8"/>
<line x1="678.24" y1="156.2" x2="678.24" y2="158.4" stroke="#555" stroke-width="0.8"/>
<line x1="679.96" y1="156.2" x2="679.96" y2="159.6" stroke="#555" stroke-width="0.8"/>
<line x1="690.81" y1="156.2" x2="690.81" y2="158.4" stroke="#555" stroke-width="0.8"/>
<line x1="697.16" y1="156.2" x2="697.16" y2="158.4" stroke="#555" stroke-width="0.8"/>
<line x1="701.66" y1="156.2" x2="701.66" y2="158.4" stroke="#555" stroke-width="0.8"/>
<line x1="705.16" y1="156.2" x2="705.16" y2="158.4" stroke="#555" stroke-width="0.8"/>
<line x1="708.01" y1="156.2" x2="708.01" y2="158.4" stroke="#555" stroke-width="0.8"/>
<line x1="710.42" y1="156.2" x2="710.42" y2="158.4" stroke="#555" stroke-width="0.8"/>
<line x1="712.51" y1="156.2" x2="712.51" y2="158.4" stroke="#555" stroke-width="0.8"/>
<line x1="714.36" y1="156.2" x2="714.36" y2="158.4" stroke="#555" stroke-width="0.8"/>
<line x1="716.01" y1="156.2" x2="716.01" y2="159.6" stroke="#555" stroke-width="0.8"/>
<line x1="571.6" y1="170.8" x2="732.5" y2="170.8" stroke="#e6e6e6" stroke-width="1"/>
<polygon points="571.6,277.2 640,276.14 642.74,276 648.21,273.95 652.31,271.22 655.05,267.8 657.78,264.38 661.88,263.01 663.94,257.54 665.3,252.07 668.72,246.6 671.46,238.39 672.83,232.92 676.93,230.18 678.3,224.71 679.67,217.87 681.72,208.3 683.09,204.19 685.14,200.09 687.19,191.88 689.24,188.47 691.29,187.78 692.66,180.94 694.03,177.52 695.4,177.52 696.76,180.94 698.13,191.88 700.18,204.19 702.23,224.71 704.29,241.12 705.65,252.07 707.02,260.27 709.76,269.85 713.86,273.95 716.6,276 730,276.14 730,276.8 571.6,276.8" fill="#d9d9d9" stroke="none"/>
<polyline points="571.6,277.2 640,276.14 642.74,276 648.21,273.95 652.31,271.22 655.05,267.8 657.78,264.38 661.88,263.01 663.94,257.54 665.3,252.07 668.72,246.6 671.46,238.39 672.83,232.92 676.93,230.18 678.3,224.71 679.67,217.87 681.72,208.3 683.09,204.19 685.14,200.09 687.19,191.88 689.24,188.47 691.29,187.78 692.66,180.94 694.03,177.52 695.4,177.52 696.76,180.94 698.13,191.88 700.18,204.19 702.23,224.71 704.29,241.12 705.65,252.07 707.02,260.27 709.76,269.85 713.86,273.95 716.6,276 730,276.14" fill="none" stroke="#7a7a7a" stroke-width="2.1" stroke-linejoin="round"/>
<polyline points="571.6,277.2 640,276 644.1,275.32 648.21,272.58 652.31,263.01 655.05,259.59 656.41,256.17 657.51,243.86 658.47,232.92 659.83,230.18 660.79,234.29 661.88,241.12 663.94,245.23 667.36,244.54 669.41,228.81 671.46,224.71 672.83,223.34 674.88,208.3 676.25,202.83 681.03,202.83 682.67,200.09 683.77,194.62 684.45,182.31 685.14,177.52 686.5,180.94 687.87,190.52 689.24,195.99 690.33,202.83 691.29,209.67 693.34,224.71 696.08,230.18 698.13,238.39 700.18,246.6 701.55,253.43 702.92,258.91 705.65,263.01 708.39,267.11 711.12,271.22 714.54,273.95 716.6,276 730,276" fill="none" stroke="#000" stroke-width="2.7" stroke-linejoin="round"/>
</g>
<line x1="571.6" y1="170.8" x2="571.6" y2="276.8" stroke="#444" stroke-width="1.1"/>
<line x1="568" y1="276.8" x2="571.6" y2="276.8" stroke="#555" stroke-width="1"/>
<line x1="570" y1="271.73" x2="571.6" y2="271.73" stroke="#666" stroke-width="1"/>
<line x1="570" y1="266.66" x2="571.6" y2="266.66" stroke="#666" stroke-width="1"/>
<line x1="570" y1="261.59" x2="571.6" y2="261.59" stroke="#666" stroke-width="1"/>
<line x1="568" y1="256.52" x2="571.6" y2="256.52" stroke="#555" stroke-width="1"/>
<line x1="570" y1="251.45" x2="571.6" y2="251.45" stroke="#666" stroke-width="1"/>
<line x1="570" y1="246.38" x2="571.6" y2="246.38" stroke="#666" stroke-width="1"/>
<line x1="570" y1="241.31" x2="571.6" y2="241.31" stroke="#666" stroke-width="1"/>
<line x1="568" y1="236.24" x2="571.6" y2="236.24" stroke="#555" stroke-width="1"/>
<line x1="570" y1="231.17" x2="571.6" y2="231.17" stroke="#666" stroke-width="1"/>
<line x1="570" y1="226.1" x2="571.6" y2="226.1" stroke="#666" stroke-width="1"/>
<line x1="570" y1="221.03" x2="571.6" y2="221.03" stroke="#666" stroke-width="1"/>
<line x1="568" y1="215.96" x2="571.6" y2="215.96" stroke="#555" stroke-width="1"/>
<line x1="570" y1="210.89" x2="571.6" y2="210.89" stroke="#666" stroke-width="1"/>
<line x1="570" y1="205.82" x2="571.6" y2="205.82" stroke="#666" stroke-width="1"/>
<line x1="570" y1="200.75" x2="571.6" y2="200.75" stroke="#666" stroke-width="1"/>
<line x1="568" y1="195.68" x2="571.6" y2="195.68" stroke="#555" stroke-width="1"/>
<line x1="570" y1="190.61" x2="571.6" y2="190.61" stroke="#666" stroke-width="1"/>
<line x1="570" y1="185.54" x2="571.6" y2="185.54" stroke="#666" stroke-width="1"/>
<line x1="570" y1="180.47" x2="571.6" y2="180.47" stroke="#666" stroke-width="1"/>
<line x1="568" y1="175.4" x2="571.6" y2="175.4" stroke="#555" stroke-width="1"/>
<line x1="568.1" y1="276.8" x2="731" y2="276.8" stroke="#000" stroke-width="1.4"/>
<line x1="579.25" y1="276.8" x2="579.25" y2="279" stroke="#555" stroke-width="0.8"/>
<line x1="587.54" y1="276.8" x2="587.54" y2="279" stroke="#555" stroke-width="0.8"/>
<line x1="589.45" y1="276.8" x2="589.45" y2="279" stroke="#555" stroke-width="0.8"/>
<line x1="591.05" y1="276.8" x2="591.05" y2="279" stroke="#555" stroke-width="0.8"/>
<line x1="592.32" y1="276.8" x2="592.32" y2="279" stroke="#555" stroke-width="0.8"/>
<line x1="593.6" y1="276.8" x2="593.6" y2="279" stroke="#555" stroke-width="0.8"/>
<line x1="594.87" y1="276.8" x2="594.87" y2="279" stroke="#555" stroke-width="0.8"/>
<line x1="600.29" y1="276.8" x2="600.29" y2="279" stroke="#555" stroke-width="0.8"/>
<line x1="601.89" y1="276.8" x2="601.89" y2="279" stroke="#555" stroke-width="0.8"/>
<line x1="603.48" y1="276.8" x2="603.48" y2="279" stroke="#555" stroke-width="0.8"/>
<line x1="611.45" y1="276.8" x2="611.45" y2="279" stroke="#555" stroke-width="0.8"/>
<line x1="617.83" y1="276.8" x2="617.83" y2="279" stroke="#555" stroke-width="0.8"/>
<line x1="624.2" y1="276.8" x2="624.2" y2="279" stroke="#555" stroke-width="0.8"/>
<line x1="630.58" y1="276.8" x2="630.58" y2="279" stroke="#555" stroke-width="0.8"/>
<line x1="635.36" y1="276.8" x2="635.36" y2="279" stroke="#555" stroke-width="0.8"/>
<line x1="638.55" y1="276.8" x2="638.55" y2="279" stroke="#555" stroke-width="0.8"/>
<line x1="640.94" y1="276.8" x2="640.94" y2="279" stroke="#555" stroke-width="0.8"/>
<line x1="596.15" y1="276.8" x2="596.15" y2="279.8" stroke="#555" stroke-width="0.8"/>
<line x1="605.55" y1="276.8" x2="605.55" y2="279.8" stroke="#555" stroke-width="0.8"/>
<line x1="642.53" y1="276.8" x2="642.53" y2="280.2" stroke="#555" stroke-width="0.8"/>
<line x1="653.81" y1="276.8" x2="653.81" y2="279" stroke="#555" stroke-width="0.8"/>
<line x1="660.41" y1="276.8" x2="660.41" y2="279" stroke="#555" stroke-width="0.8"/>
<line x1="665.09" y1="276.8" x2="665.09" y2="279" stroke="#555" stroke-width="0.8"/>
<line x1="668.72" y1="276.8" x2="668.72" y2="279" stroke="#555" stroke-width="0.8"/>
<line x1="671.68" y1="276.8" x2="671.68" y2="279" stroke="#555" stroke-width="0.8"/>
<line x1="674.19" y1="276.8" x2="674.19" y2="279" stroke="#555" stroke-width="0.8"/>
<line x1="676.36" y1="276.8" x2="676.36" y2="279" stroke="#555" stroke-width="0.8"/>
<line x1="678.28" y1="276.8" x2="678.28" y2="279" stroke="#555" stroke-width="0.8"/>
<line x1="679.99" y1="276.8" x2="679.99" y2="280.2" stroke="#555" stroke-width="0.8"/>
<line x1="690.84" y1="276.8" x2="690.84" y2="279" stroke="#555" stroke-width="0.8"/>
<line x1="697.18" y1="276.8" x2="697.18" y2="279" stroke="#555" stroke-width="0.8"/>
<line x1="701.68" y1="276.8" x2="701.68" y2="279" stroke="#555" stroke-width="0.8"/>
<line x1="705.17" y1="276.8" x2="705.17" y2="279" stroke="#555" stroke-width="0.8"/>
<line x1="708.02" y1="276.8" x2="708.02" y2="279" stroke="#555" stroke-width="0.8"/>
<line x1="710.44" y1="276.8" x2="710.44" y2="279" stroke="#555" stroke-width="0.8"/>
<line x1="712.53" y1="276.8" x2="712.53" y2="279" stroke="#555" stroke-width="0.8"/>
<line x1="714.37" y1="276.8" x2="714.37" y2="279" stroke="#555" stroke-width="0.8"/>
<line x1="716.02" y1="276.8" x2="716.02" y2="280.2" stroke="#555" stroke-width="0.8"/>
<line x1="571.6" y1="288.4" x2="732.5" y2="288.4" stroke="#e6e6e6" stroke-width="1"/>
<polygon points="571.6,394.4 620,394.4 628.21,393.37 636.41,391.32 641.88,389.27 645.99,385.85 649.41,381.74 652.83,379.01 655.56,373.54 657.61,366.7 659.67,360.54 661.03,347.55 663.09,337.98 665.14,329.77 667.19,318.83 668.56,311.99 669.92,305.15 671.29,299.68 672.66,296.26 674.03,295.3 675.4,296.94 677.45,301.05 678.81,306.52 680.18,313.36 681.55,321.56 682.92,329.77 684.29,337.98 685.65,346.18 687.02,354.39 688.39,362.6 689.76,369.43 691.12,376.27 692.49,381.74 694.54,387.22 696.6,390.64 699.33,392.69 702.07,394.4 710,394.4 710,394 571.6,394" fill="#d9d9d9" stroke="none"/>
<polyline points="571.6,394.4 620,394.4 628.21,393.37 636.41,391.32 641.88,389.27 645.99,385.85 649.41,381.74 652.83,379.01 655.56,373.54 657.61,366.7 659.67,360.54 661.03,347.55 663.09,337.98 665.14,329.77 667.19,318.83 668.56,311.99 669.92,305.15 671.29,299.68 672.66,296.26 674.03,295.3 675.4,296.94 677.45,301.05 678.81,306.52 680.18,313.36 681.55,321.56 682.92,329.77 684.29,337.98 685.65,346.18 687.02,354.39 688.39,362.6 689.76,369.43 691.12,376.27 692.49,381.74 694.54,387.22 696.6,390.64 699.33,392.69 702.07,394.4 710,394.4" fill="none" stroke="#7a7a7a" stroke-width="2.1" stroke-linejoin="round"/>
<polyline points="571.6,394.4 620,394.4 625.47,393.1 629.57,392 633.68,388.31 637.78,387.49 641.2,386.94 643.25,385.85 645.3,380.38 647.36,372.85 650.78,371.49 652.83,361.23 654.88,357.12 656.93,346.18 658.3,340.71 660.35,329.77 661.72,316.09 663.77,313.36 665.14,311.99 666.5,301.05 667.19,296.94 668.15,305.15 669.24,301.05 669.92,298.31 670.88,303.78 671.98,294.89 673.07,296.94 674.03,313.36 675.4,322.93 676.76,331.14 678.13,340.71 680.18,353.02 681.55,362.6 682.92,370.8 684.29,377.64 686.34,381.74 688.39,384.48 691.12,387.9 694.54,390.64 697.96,392.69 700.7,394.4 710,394.4" fill="none" stroke="#000" stroke-width="2.7" stroke-linejoin="round"/>
</g>
<line x1="571.6" y1="288.4" x2="571.6" y2="394" stroke="#444" stroke-width="1.1"/>
<line x1="568" y1="394" x2="571.6" y2="394" stroke="#555" stroke-width="1"/>
<line x1="570" y1="388.95" x2="571.6" y2="388.95" stroke="#666" stroke-width="1"/>
<line x1="570" y1="383.9" x2="571.6" y2="383.9" stroke="#666" stroke-width="1"/>
<line x1="570" y1="378.85" x2="571.6" y2="378.85" stroke="#666" stroke-width="1"/>
<line x1="568" y1="373.8" x2="571.6" y2="373.8" stroke="#555" stroke-width="1"/>
<line x1="570" y1="368.75" x2="571.6" y2="368.75" stroke="#666" stroke-width="1"/>
<line x1="570" y1="363.7" x2="571.6" y2="363.7" stroke="#666" stroke-width="1"/>
<line x1="570" y1="358.65" x2="571.6" y2="358.65" stroke="#666" stroke-width="1"/>
<line x1="568" y1="353.6" x2="571.6" y2="353.6" stroke="#555" stroke-width="1"/>
<line x1="570" y1="348.55" x2="571.6" y2="348.55" stroke="#666" stroke-width="1"/>
<line x1="570" y1="343.5" x2="571.6" y2="343.5" stroke="#666" stroke-width="1"/>
<line x1="570" y1="338.45" x2="571.6" y2="338.45" stroke="#666" stroke-width="1"/>
<line x1="568" y1="333.4" x2="571.6" y2="333.4" stroke="#555" stroke-width="1"/>
<line x1="570" y1="328.35" x2="571.6" y2="328.35" stroke="#666" stroke-width="1"/>
<line x1="570" y1="323.3" x2="571.6" y2="323.3" stroke="#666" stroke-width="1"/>
<line x1="570" y1="318.25" x2="571.6" y2="318.25" stroke="#666" stroke-width="1"/>
<line x1="568" y1="313.2" x2="571.6" y2="313.2" stroke="#555" stroke-width="1"/>
<line x1="570" y1="308.15" x2="571.6" y2="308.15" stroke="#666" stroke-width="1"/>
<line x1="570" y1="303.1" x2="571.6" y2="303.1" stroke="#666" stroke-width="1"/>
<line x1="570" y1="298.05" x2="571.6" y2="298.05" stroke="#666" stroke-width="1"/>
<line x1="568" y1="293" x2="571.6" y2="293" stroke="#555" stroke-width="1"/>
<line x1="568.1" y1="394" x2="731" y2="394" stroke="#000" stroke-width="1.4"/>
<line x1="579.25" y1="394" x2="579.25" y2="396.2" stroke="#555" stroke-width="0.8"/>
<line x1="587.54" y1="394" x2="587.54" y2="396.2" stroke="#555" stroke-width="0.8"/>
<line x1="589.45" y1="394" x2="589.45" y2="396.2" stroke="#555" stroke-width="0.8"/>
<line x1="591.05" y1="394" x2="591.05" y2="396.2" stroke="#555" stroke-width="0.8"/>
<line x1="592.32" y1="394" x2="592.32" y2="396.2" stroke="#555" stroke-width="0.8"/>
<line x1="593.6" y1="394" x2="593.6" y2="396.2" stroke="#555" stroke-width="0.8"/>
<line x1="594.87" y1="394" x2="594.87" y2="396.2" stroke="#555" stroke-width="0.8"/>
<line x1="600.29" y1="394" x2="600.29" y2="396.2" stroke="#555" stroke-width="0.8"/>
<line x1="601.89" y1="394" x2="601.89" y2="396.2" stroke="#555" stroke-width="0.8"/>
<line x1="603.48" y1="394" x2="603.48" y2="396.2" stroke="#555" stroke-width="0.8"/>
<line x1="611.45" y1="394" x2="611.45" y2="396.2" stroke="#555" stroke-width="0.8"/>
<line x1="617.83" y1="394" x2="617.83" y2="396.2" stroke="#555" stroke-width="0.8"/>
<line x1="624.2" y1="394" x2="624.2" y2="396.2" stroke="#555" stroke-width="0.8"/>
<line x1="630.58" y1="394" x2="630.58" y2="396.2" stroke="#555" stroke-width="0.8"/>
<line x1="635.36" y1="394" x2="635.36" y2="396.2" stroke="#555" stroke-width="0.8"/>
<line x1="638.55" y1="394" x2="638.55" y2="396.2" stroke="#555" stroke-width="0.8"/>
<line x1="640.94" y1="394" x2="640.94" y2="396.2" stroke="#555" stroke-width="0.8"/>
<line x1="596.15" y1="394" x2="596.15" y2="397" stroke="#555" stroke-width="0.8"/>
<line x1="605.55" y1="394" x2="605.55" y2="397" stroke="#555" stroke-width="0.8"/>
<line x1="642.53" y1="394" x2="642.53" y2="397.4" stroke="#555" stroke-width="0.8"/>
<line x1="653.81" y1="394" x2="653.81" y2="396.2" stroke="#555" stroke-width="0.8"/>
<line x1="660.41" y1="394" x2="660.41" y2="396.2" stroke="#555" stroke-width="0.8"/>
<line x1="665.09" y1="394" x2="665.09" y2="396.2" stroke="#555" stroke-width="0.8"/>
<line x1="668.72" y1="394" x2="668.72" y2="396.2" stroke="#555" stroke-width="0.8"/>
<line x1="671.68" y1="394" x2="671.68" y2="396.2" stroke="#555" stroke-width="0.8"/>
<line x1="674.19" y1="394" x2="674.19" y2="396.2" stroke="#555" stroke-width="0.8"/>
<line x1="676.36" y1="394" x2="676.36" y2="396.2" stroke="#555" stroke-width="0.8"/>
<line x1="678.28" y1="394" x2="678.28" y2="396.2" stroke="#555" stroke-width="0.8"/>
<line x1="679.99" y1="394" x2="679.99" y2="397.4" stroke="#555" stroke-width="0.8"/>
<line x1="690.84" y1="394" x2="690.84" y2="396.2" stroke="#555" stroke-width="0.8"/>
<line x1="697.18" y1="394" x2="697.18" y2="396.2" stroke="#555" stroke-width="0.8"/>
<line x1="701.68" y1="394" x2="701.68" y2="396.2" stroke="#555" stroke-width="0.8"/>
<line x1="705.17" y1="394" x2="705.17" y2="396.2" stroke="#555" stroke-width="0.8"/>
<line x1="708.02" y1="394" x2="708.02" y2="396.2" stroke="#555" stroke-width="0.8"/>
<line x1="710.44" y1="394" x2="710.44" y2="396.2" stroke="#555" stroke-width="0.8"/>
<line x1="712.53" y1="394" x2="712.53" y2="396.2" stroke="#555" stroke-width="0.8"/>
<line x1="714.37" y1="394" x2="714.37" y2="396.2" stroke="#555" stroke-width="0.8"/>
<line x1="716.02" y1="394" x2="716.02" y2="397.4" stroke="#555" stroke-width="0.8"/>
<text transform="translate(33.9,100.5) rotate(-90)" text-anchor="middle" font-size="18" font-family="Liberation Sans, sans-serif">Ly6C<tspan font-size="11.5" dy="-4.8">hi</tspan></text>
<text transform="translate(55.8,101.5) rotate(-90)" text-anchor="middle" font-size="18" font-family="Liberation Sans, sans-serif">mono</text>
<text transform="translate(35.6,218.3) rotate(-90)" text-anchor="middle" font-size="18" font-family="Liberation Sans, sans-serif">Ly6C<tspan font-size="11.5" dy="-4.8">lo</tspan></text>
<text transform="translate(57.1,218.3) rotate(-90)" text-anchor="middle" font-size="18" font-family="Liberation Sans, sans-serif">mono</text>
<text transform="translate(308.9,103.3) rotate(-90)" text-anchor="middle" font-size="18" font-family="Liberation Sans, sans-serif">Ly6C<tspan font-size="11.5" dy="-4.8">hi</tspan></text>
<text transform="translate(330.3,105) rotate(-90)" text-anchor="middle" font-size="18" font-family="Liberation Sans, sans-serif">mono</text>
<text transform="translate(320,226.3) rotate(-90)" text-anchor="middle" font-size="18" font-family="Liberation Sans, sans-serif">RPM</text>
<text transform="translate(311.3,342) rotate(-90)" text-anchor="middle" font-size="18" font-family="Liberation Sans, sans-serif">CD11b<tspan font-size="11.5" dy="-4.3">+</tspan></text>
<text transform="translate(333,343) rotate(-90)" text-anchor="middle" font-size="18" font-family="Liberation Sans, sans-serif">DC</text>
<text transform="translate(533.1,104.8) rotate(-90)" text-anchor="middle" font-size="18" font-family="Liberation Sans, sans-serif">Ly6C<tspan font-size="11.5" dy="-4.8">hi</tspan></text>
<text transform="translate(554.3,103.7) rotate(-90)" text-anchor="middle" font-size="18" font-family="Liberation Sans, sans-serif">DC</text>
<text transform="translate(533.1,223.8) rotate(-90)" text-anchor="middle" font-size="18" font-family="Liberation Sans, sans-serif">CD103<tspan font-size="11.5" dy="-4.3">+</tspan><tspan dy="4.3">/</tspan></text>
<text transform="translate(554.8,225) rotate(-90)" text-anchor="middle" font-size="18" font-family="Liberation Sans, sans-serif">XCR1<tspan font-size="11.5" dy="-4.3">+</tspan><tspan dy="4.3"> DC</tspan></text>
<text transform="translate(543.9,343.2) rotate(-90)" text-anchor="middle" font-size="18" font-family="Liberation Sans, sans-serif">AvM</text>
<text transform="translate(16.15,42.8) scale(0.915,1)" text-anchor="middle" font-size="28.7" font-family="Liberation Sans, sans-serif">A</text>
<text x="6.8" y="468" font-size="28.7" font-family="Liberation Sans, sans-serif">B</text>
<text x="63.3" y="29" font-size="18.3" font-family="Liberation Sans, sans-serif">Lung vasculature</text>
<text x="446" y="29" font-size="18.3" font-family="Liberation Sans, sans-serif">Lung parenchyma</text>
<text x="150" y="300.5" font-size="18.2" text-anchor="middle" font-family="Liberation Sans, sans-serif">MHCII MFI</text>
<text x="537.6" y="431" font-size="18.2" text-anchor="middle" font-family="Liberation Sans, sans-serif">MHCII MFI</text>
<text x="345.3" y="794.9" font-size="18.2" text-anchor="middle" font-family="Liberation Sans, sans-serif">MHCII MFI</text>
<rect x="77" y="334.3" width="14" height="12" fill="#575757" stroke="#000" stroke-width="2"/>
<rect x="77" y="351.7" width="14" height="11.5" fill="#c8c8c8" stroke="#000" stroke-width="2"/>
<text x="97.3" y="346.2" font-size="15.5" font-family="Liberation Sans, sans-serif">EdU<tspan font-size="10.5" dy="-2.6">+</tspan></text>
<text x="97.3" y="363.1" font-size="15.5" font-family="Liberation Sans, sans-serif">Total</text>
<text x="265" y="481.6" font-size="15" text-anchor="middle" font-family="Liberation Sans, sans-serif">12h post EdU</text>
<text x="436" y="481.6" font-size="15" text-anchor="middle" font-family="Liberation Sans, sans-serif">24h post EdU</text>
<line x1="227.4" y1="501.5" x2="229.5" y2="501.5" stroke="#000" stroke-width="1.1"/>
<line x1="229.5" y1="499.3" x2="229.5" y2="503.7" stroke="#000" stroke-width="1.1"/>
<rect x="175.5" y="498.1" width="51.9" height="6.8" fill="#c4c4c4" stroke="#000" stroke-width="1.4"/>
<line x1="203.4" y1="512.3" x2="207" y2="512.3" stroke="#000" stroke-width="1.1"/>
<line x1="207" y1="510.1" x2="207" y2="514.5" stroke="#000" stroke-width="1.1"/>
<rect x="175.5" y="509" width="27.9" height="6.6" fill="#575757" stroke="#000" stroke-width="1.4"/>
<line x1="215.6" y1="529.25" x2="219.4" y2="529.25" stroke="#000" stroke-width="1.1"/>
<line x1="219.4" y1="527.05" x2="219.4" y2="531.45" stroke="#000" stroke-width="1.1"/>
<rect x="175.5" y="525.85" width="40.1" height="6.8" fill="#c4c4c4" stroke="#000" stroke-width="1.4"/>
<line x1="234.2" y1="540.05" x2="236.6" y2="540.05" stroke="#000" stroke-width="1.1"/>
<line x1="236.6" y1="537.85" x2="236.6" y2="542.25" stroke="#000" stroke-width="1.1"/>
<rect x="175.5" y="536.75" width="58.7" height="6.6" fill="#575757" stroke="#000" stroke-width="1.4"/>
<line x1="255.4" y1="584.75" x2="258.6" y2="584.75" stroke="#000" stroke-width="1.1"/>
<line x1="258.6" y1="582.55" x2="258.6" y2="586.95" stroke="#000" stroke-width="1.1"/>
<rect x="175.5" y="581.35" width="79.9" height="6.8" fill="#c4c4c4" stroke="#000" stroke-width="1.4"/>
<line x1="203" y1="595.55" x2="205.3" y2="595.55" stroke="#000" stroke-width="1.1"/>
<line x1="205.3" y1="593.35" x2="205.3" y2="597.75" stroke="#000" stroke-width="1.1"/>
<rect x="175.5" y="592.25" width="27.5" height="6.6" fill="#575757" stroke="#000" stroke-width="1.4"/>
<line x1="278.8" y1="612.5" x2="281" y2="612.5" stroke="#000" stroke-width="1.1"/>
<line x1="281" y1="610.3" x2="281" y2="614.7" stroke="#000" stroke-width="1.1"/>
<rect x="175.5" y="609.1" width="103.3" height="6.8" fill="#c4c4c4" stroke="#000" stroke-width="1.4"/>
<line x1="267.5" y1="623.3" x2="270" y2="623.3" stroke="#000" stroke-width="1.1"/>
<line x1="270" y1="621.1" x2="270" y2="625.5" stroke="#000" stroke-width="1.1"/>
<rect x="175.5" y="620" width="92" height="6.6" fill="#575757" stroke="#000" stroke-width="1.4"/>
<line x1="290.4" y1="640.25" x2="292.5" y2="640.25" stroke="#000" stroke-width="1.1"/>
<line x1="292.5" y1="638.05" x2="292.5" y2="642.45" stroke="#000" stroke-width="1.1"/>
<rect x="175.5" y="636.85" width="114.9" height="6.8" fill="#c4c4c4" stroke="#000" stroke-width="1.4"/>
<line x1="280.4" y1="651.05" x2="282.8" y2="651.05" stroke="#000" stroke-width="1.1"/>
<line x1="282.8" y1="648.85" x2="282.8" y2="653.25" stroke="#000" stroke-width="1.1"/>
<rect x="175.5" y="647.75" width="104.9" height="6.6" fill="#575757" stroke="#000" stroke-width="1.4"/>
<line x1="258.1" y1="668" x2="262.8" y2="668" stroke="#000" stroke-width="1.1"/>
<line x1="262.8" y1="665.8" x2="262.8" y2="670.2" stroke="#000" stroke-width="1.1"/>
<rect x="175.5" y="664.6" width="82.6" height="6.8" fill="#c4c4c4" stroke="#000" stroke-width="1.4"/>
<line x1="253" y1="678.8" x2="256.7" y2="678.8" stroke="#000" stroke-width="1.1"/>
<line x1="256.7" y1="676.6" x2="256.7" y2="681" stroke="#000" stroke-width="1.1"/>
<rect x="175.5" y="675.5" width="77.5" height="6.6" fill="#575757" stroke="#000" stroke-width="1.4"/>
<line x1="295.8" y1="695.75" x2="298" y2="695.75" stroke="#000" stroke-width="1.1"/>
<line x1="298" y1="693.55" x2="298" y2="697.95" stroke="#000" stroke-width="1.1"/>
<rect x="175.5" y="692.35" width="120.3" height="6.8" fill="#c4c4c4" stroke="#000" stroke-width="1.4"/>
<line x1="285.5" y1="706.55" x2="287.5" y2="706.55" stroke="#000" stroke-width="1.1"/>
<line x1="287.5" y1="704.35" x2="287.5" y2="708.75" stroke="#000" stroke-width="1.1"/>
<rect x="175.5" y="703.25" width="110" height="6.6" fill="#575757" stroke="#000" stroke-width="1.4"/>
<line x1="265.8" y1="723.5" x2="269.9" y2="723.5" stroke="#000" stroke-width="1.1"/>
<line x1="269.9" y1="721.3" x2="269.9" y2="725.7" stroke="#000" stroke-width="1.1"/>
<rect x="175.5" y="720.1" width="90.3" height="6.8" fill="#c4c4c4" stroke="#000" stroke-width="1.4"/>
<line x1="257.9" y1="734.3" x2="260.5" y2="734.3" stroke="#000" stroke-width="1.1"/>
<line x1="260.5" y1="732.1" x2="260.5" y2="736.5" stroke="#000" stroke-width="1.1"/>
<rect x="175.5" y="731" width="82.4" height="6.6" fill="#575757" stroke="#000" stroke-width="1.4"/>
<text x="226" y="513.65" font-size="20.5" text-anchor="middle" stroke="#000" stroke-width="0.25" font-family="Liberation Sans, sans-serif">*</text>
<text x="235.9" y="513.65" font-size="20.5" text-anchor="middle" stroke="#000" stroke-width="0.25" font-family="Liberation Sans, sans-serif">*</text>
<text x="234.2" y="539.45" font-size="20.5" text-anchor="middle" stroke="#000" stroke-width="0.25" font-family="Liberation Sans, sans-serif">*</text>
<text x="243.8" y="539.45" font-size="20.5" text-anchor="middle" stroke="#000" stroke-width="0.25" font-family="Liberation Sans, sans-serif">*</text>
<text x="253.8" y="595.85" font-size="20.5" text-anchor="middle" stroke="#000" stroke-width="0.25" font-family="Liberation Sans, sans-serif">*</text>
<text x="263.4" y="595.85" font-size="20.5" text-anchor="middle" stroke="#000" stroke-width="0.25" font-family="Liberation Sans, sans-serif">*</text>
<text x="278.6" y="623.45" font-size="20.5" text-anchor="middle" stroke="#000" stroke-width="0.25" font-family="Liberation Sans, sans-serif">*</text>
<text x="287.8" y="623.45" font-size="20.5" text-anchor="middle" stroke="#000" stroke-width="0.25" font-family="Liberation Sans, sans-serif">*</text>
<text x="291.1" y="652.4" font-size="20.5" text-anchor="middle" stroke="#000" stroke-width="0.25" font-family="Liberation Sans, sans-serif">*</text>
<text x="300" y="652.4" font-size="20.5" text-anchor="middle" stroke="#000" stroke-width="0.25" font-family="Liberation Sans, sans-serif">*</text>
<text x="294.4" y="707.1" font-size="20.5" text-anchor="middle" stroke="#000" stroke-width="0.25" font-family="Liberation Sans, sans-serif">*</text>
<text x="303.2" y="707.1" font-size="20.5" text-anchor="middle" stroke="#000" stroke-width="0.25" font-family="Liberation Sans, sans-serif">*</text>
<line x1="175.5" y1="494.4" x2="175.5" y2="740.4" stroke="#000" stroke-width="1.5"/>
<line x1="171.5" y1="506.9" x2="175.5" y2="506.9" stroke="#000" stroke-width="1.3"/>
<line x1="171.5" y1="534.65" x2="175.5" y2="534.65" stroke="#000" stroke-width="1.3"/>
<line x1="171.5" y1="562.4" x2="175.5" y2="562.4" stroke="#000" stroke-width="1.3"/>
<line x1="171.5" y1="590.15" x2="175.5" y2="590.15" stroke="#000" stroke-width="1.3"/>
<line x1="171.5" y1="617.9" x2="175.5" y2="617.9" stroke="#000" stroke-width="1.3"/>
<line x1="171.5" y1="645.65" x2="175.5" y2="645.65" stroke="#000" stroke-width="1.3"/>
<line x1="171.5" y1="673.4" x2="175.5" y2="673.4" stroke="#000" stroke-width="1.3"/>
<line x1="171.5" y1="701.15" x2="175.5" y2="701.15" stroke="#000" stroke-width="1.3"/>
<line x1="171.5" y1="728.9" x2="175.5" y2="728.9" stroke="#000" stroke-width="1.3"/>
<line x1="174.8" y1="740.4" x2="339.7" y2="740.4" stroke="#000" stroke-width="1.5"/>
<line x1="175.5" y1="740.4" x2="175.5" y2="744.7" stroke="#000" stroke-width="1.3"/>
<line x1="191.97" y1="740.4" x2="191.97" y2="743.1" stroke="#000" stroke-width="1.1"/>
<line x1="201.6" y1="740.4" x2="201.6" y2="743.1" stroke="#000" stroke-width="1.1"/>
<line x1="208.43" y1="740.4" x2="208.43" y2="743.1" stroke="#000" stroke-width="1.1"/>
<line x1="213.73" y1="740.4" x2="213.73" y2="743.1" stroke="#000" stroke-width="1.1"/>
<line x1="218.06" y1="740.4" x2="218.06" y2="743.1" stroke="#000" stroke-width="1.1"/>
<line x1="221.73" y1="740.4" x2="221.73" y2="743.1" stroke="#000" stroke-width="1.1"/>
<line x1="224.9" y1="740.4" x2="224.9" y2="743.1" stroke="#000" stroke-width="1.1"/>
<line x1="227.7" y1="740.4" x2="227.7" y2="743.1" stroke="#000" stroke-width="1.1"/>
<line x1="230.2" y1="740.4" x2="230.2" y2="744.7" stroke="#000" stroke-width="1.3"/>
<line x1="246.67" y1="740.4" x2="246.67" y2="743.1" stroke="#000" stroke-width="1.1"/>
<line x1="256.3" y1="740.4" x2="256.3" y2="743.1" stroke="#000" stroke-width="1.1"/>
<line x1="263.13" y1="740.4" x2="263.13" y2="743.1" stroke="#000" stroke-width="1.1"/>
<line x1="268.43" y1="740.4" x2="268.43" y2="743.1" stroke="#000" stroke-width="1.1"/>
<line x1="272.76" y1="740.4" x2="272.76" y2="743.1" stroke="#000" stroke-width="1.1"/>
<line x1="276.43" y1="740.4" x2="276.43" y2="743.1" stroke="#000" stroke-width="1.1"/>
<line x1="279.6" y1="740.4" x2="279.6" y2="743.1" stroke="#000" stroke-width="1.1"/>
<line x1="282.4" y1="740.4" x2="282.4" y2="743.1" stroke="#000" stroke-width="1.1"/>
<line x1="284.9" y1="740.4" x2="284.9" y2="744.7" stroke="#000" stroke-width="1.3"/>
<line x1="301.37" y1="740.4" x2="301.37" y2="743.1" stroke="#000" stroke-width="1.1"/>
<line x1="311" y1="740.4" x2="311" y2="743.1" stroke="#000" stroke-width="1.1"/>
<line x1="317.83" y1="740.4" x2="317.83" y2="743.1" stroke="#000" stroke-width="1.1"/>
<line x1="323.13" y1="740.4" x2="323.13" y2="743.1" stroke="#000" stroke-width="1.1"/>
<line x1="327.46" y1="740.4" x2="327.46" y2="743.1" stroke="#000" stroke-width="1.1"/>
<line x1="331.13" y1="740.4" x2="331.13" y2="743.1" stroke="#000" stroke-width="1.1"/>
<line x1="334.3" y1="740.4" x2="334.3" y2="743.1" stroke="#000" stroke-width="1.1"/>
<line x1="337.1" y1="740.4" x2="337.1" y2="743.1" stroke="#000" stroke-width="1.1"/>
<line x1="339.6" y1="740.4" x2="339.6" y2="744.7" stroke="#000" stroke-width="1.3"/>
<text transform="translate(185,753.6) rotate(-45)" text-anchor="end" font-size="15.5" font-family="Liberation Sans, sans-serif">0</text>
<text transform="translate(241.2,752.9) rotate(-45)" text-anchor="end" font-size="14.8" font-family="Liberation Sans, sans-serif">10<tspan font-size="10.5" dy="-5.5">2</tspan></text>
<text transform="translate(295.9,752.9) rotate(-45)" text-anchor="end" font-size="14.8" font-family="Liberation Sans, sans-serif">10<tspan font-size="10.5" dy="-5.5">3</tspan></text>
<text transform="translate(350.6,752.9) rotate(-45)" text-anchor="end" font-size="14.8" font-family="Liberation Sans, sans-serif">10<tspan font-size="10.5" dy="-5.5">4</tspan></text>
<line x1="409.3" y1="501.5" x2="414.6" y2="501.5" stroke="#000" stroke-width="1.1"/>
<line x1="414.6" y1="499.3" x2="414.6" y2="503.7" stroke="#000" stroke-width="1.1"/>
<rect x="360" y="498.1" width="49.3" height="6.8" fill="#c4c4c4" stroke="#000" stroke-width="1.4"/>
<line x1="404.5" y1="512.3" x2="409.8" y2="512.3" stroke="#000" stroke-width="1.1"/>
<line x1="409.8" y1="510.1" x2="409.8" y2="514.5" stroke="#000" stroke-width="1.1"/>
<rect x="360" y="509" width="44.5" height="6.6" fill="#575757" stroke="#000" stroke-width="1.4"/>
<line x1="415" y1="529.25" x2="419.9" y2="529.25" stroke="#000" stroke-width="1.1"/>
<line x1="419.9" y1="527.05" x2="419.9" y2="531.45" stroke="#000" stroke-width="1.1"/>
<rect x="360" y="525.85" width="55" height="6.8" fill="#c4c4c4" stroke="#000" stroke-width="1.4"/>
<line x1="413.9" y1="540.05" x2="418.2" y2="540.05" stroke="#000" stroke-width="1.1"/>
<line x1="418.2" y1="537.85" x2="418.2" y2="542.25" stroke="#000" stroke-width="1.1"/>
<rect x="360" y="536.75" width="53.9" height="6.6" fill="#575757" stroke="#000" stroke-width="1.4"/>
<line x1="416" y1="584.75" x2="420.6" y2="584.75" stroke="#000" stroke-width="1.1"/>
<line x1="420.6" y1="582.55" x2="420.6" y2="586.95" stroke="#000" stroke-width="1.1"/>
<rect x="360" y="581.35" width="56" height="6.8" fill="#c4c4c4" stroke="#000" stroke-width="1.4"/>
<line x1="408.6" y1="595.55" x2="413.4" y2="595.55" stroke="#000" stroke-width="1.1"/>
<line x1="413.4" y1="593.35" x2="413.4" y2="597.75" stroke="#000" stroke-width="1.1"/>
<rect x="360" y="592.25" width="48.6" height="6.6" fill="#575757" stroke="#000" stroke-width="1.4"/>
<line x1="458.3" y1="612.5" x2="463" y2="612.5" stroke="#000" stroke-width="1.1"/>
<line x1="463" y1="610.3" x2="463" y2="614.7" stroke="#000" stroke-width="1.1"/>
<rect x="360" y="609.1" width="98.3" height="6.8" fill="#c4c4c4" stroke="#000" stroke-width="1.4"/>
<line x1="452.5" y1="623.3" x2="457.8" y2="623.3" stroke="#000" stroke-width="1.1"/>
<line x1="457.8" y1="621.1" x2="457.8" y2="625.5" stroke="#000" stroke-width="1.1"/>
<rect x="360" y="620" width="92.5" height="6.6" fill="#575757" stroke="#000" stroke-width="1.4"/>
<line x1="462.1" y1="640.25" x2="466.9" y2="640.25" stroke="#000" stroke-width="1.1"/>
<line x1="466.9" y1="638.05" x2="466.9" y2="642.45" stroke="#000" stroke-width="1.1"/>
<rect x="360" y="636.85" width="102.1" height="6.8" fill="#c4c4c4" stroke="#000" stroke-width="1.4"/>
<line x1="458.3" y1="651.05" x2="463" y2="651.05" stroke="#000" stroke-width="1.1"/>
<line x1="463" y1="648.85" x2="463" y2="653.25" stroke="#000" stroke-width="1.1"/>
<rect x="360" y="647.75" width="98.3" height="6.6" fill="#575757" stroke="#000" stroke-width="1.4"/>
<line x1="415.3" y1="668" x2="419.4" y2="668" stroke="#000" stroke-width="1.1"/>
<line x1="419.4" y1="665.8" x2="419.4" y2="670.2" stroke="#000" stroke-width="1.1"/>
<rect x="360" y="664.6" width="55.3" height="6.8" fill="#c4c4c4" stroke="#000" stroke-width="1.4"/>
<line x1="426.1" y1="678.8" x2="430.9" y2="678.8" stroke="#000" stroke-width="1.1"/>
<line x1="430.9" y1="676.6" x2="430.9" y2="681" stroke="#000" stroke-width="1.1"/>
<rect x="360" y="675.5" width="66.1" height="6.6" fill="#575757" stroke="#000" stroke-width="1.4"/>
<line x1="449.9" y1="695.75" x2="454.2" y2="695.75" stroke="#000" stroke-width="1.1"/>
<line x1="454.2" y1="693.55" x2="454.2" y2="697.95" stroke="#000" stroke-width="1.1"/>
<rect x="360" y="692.35" width="89.9" height="6.8" fill="#c4c4c4" stroke="#000" stroke-width="1.4"/>
<line x1="448.2" y1="706.55" x2="453.7" y2="706.55" stroke="#000" stroke-width="1.1"/>
<line x1="453.7" y1="704.35" x2="453.7" y2="708.75" stroke="#000" stroke-width="1.1"/>
<rect x="360" y="703.25" width="88.2" height="6.6" fill="#575757" stroke="#000" stroke-width="1.4"/>
<line x1="451.8" y1="723.5" x2="456.6" y2="723.5" stroke="#000" stroke-width="1.1"/>
<line x1="456.6" y1="721.3" x2="456.6" y2="725.7" stroke="#000" stroke-width="1.1"/>
<rect x="360" y="720.1" width="91.8" height="6.8" fill="#c4c4c4" stroke="#000" stroke-width="1.4"/>
<line x1="445.8" y1="734.3" x2="450.1" y2="734.3" stroke="#000" stroke-width="1.1"/>
<line x1="450.1" y1="732.1" x2="450.1" y2="736.5" stroke="#000" stroke-width="1.1"/>
<rect x="360" y="731" width="85.8" height="6.6" fill="#575757" stroke="#000" stroke-width="1.4"/>
<line x1="360" y1="494.4" x2="360" y2="740.4" stroke="#000" stroke-width="1.5"/>
<line x1="356" y1="506.9" x2="360" y2="506.9" stroke="#000" stroke-width="1.3"/>
<line x1="356" y1="534.65" x2="360" y2="534.65" stroke="#000" stroke-width="1.3"/>
<line x1="356" y1="562.4" x2="360" y2="562.4" stroke="#000" stroke-width="1.3"/>
<line x1="356" y1="590.15" x2="360" y2="590.15" stroke="#000" stroke-width="1.3"/>
<line x1="356" y1="617.9" x2="360" y2="617.9" stroke="#000" stroke-width="1.3"/>
<line x1="356" y1="645.65" x2="360" y2="645.65" stroke="#000" stroke-width="1.3"/>
<line x1="356" y1="673.4" x2="360" y2="673.4" stroke="#000" stroke-width="1.3"/>
<line x1="356" y1="701.15" x2="360" y2="701.15" stroke="#000" stroke-width="1.3"/>
<line x1="356" y1="728.9" x2="360" y2="728.9" stroke="#000" stroke-width="1.3"/>
<line x1="359.3" y1="740.4" x2="523.8" y2="740.4" stroke="#000" stroke-width="1.5"/>
<line x1="360" y1="740.4" x2="360" y2="744.7" stroke="#000" stroke-width="1.3"/>
<line x1="376.44" y1="740.4" x2="376.44" y2="743.1" stroke="#000" stroke-width="1.1"/>
<line x1="386.05" y1="740.4" x2="386.05" y2="743.1" stroke="#000" stroke-width="1.1"/>
<line x1="392.87" y1="740.4" x2="392.87" y2="743.1" stroke="#000" stroke-width="1.1"/>
<line x1="398.16" y1="740.4" x2="398.16" y2="743.1" stroke="#000" stroke-width="1.1"/>
<line x1="402.49" y1="740.4" x2="402.49" y2="743.1" stroke="#000" stroke-width="1.1"/>
<line x1="406.14" y1="740.4" x2="406.14" y2="743.1" stroke="#000" stroke-width="1.1"/>
<line x1="409.31" y1="740.4" x2="409.31" y2="743.1" stroke="#000" stroke-width="1.1"/>
<line x1="412.1" y1="740.4" x2="412.1" y2="743.1" stroke="#000" stroke-width="1.1"/>
<line x1="414.6" y1="740.4" x2="414.6" y2="744.7" stroke="#000" stroke-width="1.3"/>
<line x1="431.04" y1="740.4" x2="431.04" y2="743.1" stroke="#000" stroke-width="1.1"/>
<line x1="440.65" y1="740.4" x2="440.65" y2="743.1" stroke="#000" stroke-width="1.1"/>
<line x1="447.47" y1="740.4" x2="447.47" y2="743.1" stroke="#000" stroke-width="1.1"/>
<line x1="452.76" y1="740.4" x2="452.76" y2="743.1" stroke="#000" stroke-width="1.1"/>
<line x1="457.09" y1="740.4" x2="457.09" y2="743.1" stroke="#000" stroke-width="1.1"/>
<line x1="460.74" y1="740.4" x2="460.74" y2="743.1" stroke="#000" stroke-width="1.1"/>
<line x1="463.91" y1="740.4" x2="463.91" y2="743.1" stroke="#000" stroke-width="1.1"/>
<line x1="466.7" y1="740.4" x2="466.7" y2="743.1" stroke="#000" stroke-width="1.1"/>
<line x1="469.2" y1="740.4" x2="469.2" y2="744.7" stroke="#000" stroke-width="1.3"/>
<line x1="485.64" y1="740.4" x2="485.64" y2="743.1" stroke="#000" stroke-width="1.1"/>
<line x1="495.25" y1="740.4" x2="495.25" y2="743.1" stroke="#000" stroke-width="1.1"/>
<line x1="502.07" y1="740.4" x2="502.07" y2="743.1" stroke="#000" stroke-width="1.1"/>
<line x1="507.36" y1="740.4" x2="507.36" y2="743.1" stroke="#000" stroke-width="1.1"/>
<line x1="511.69" y1="740.4" x2="511.69" y2="743.1" stroke="#000" stroke-width="1.1"/>
<line x1="515.34" y1="740.4" x2="515.34" y2="743.1" stroke="#000" stroke-width="1.1"/>
<line x1="518.51" y1="740.4" x2="518.51" y2="743.1" stroke="#000" stroke-width="1.1"/>
<line x1="521.3" y1="740.4" x2="521.3" y2="743.1" stroke="#000" stroke-width="1.1"/>
<line x1="523.8" y1="740.4" x2="523.8" y2="744.7" stroke="#000" stroke-width="1.3"/>
<text transform="translate(369.5,753.6) rotate(-45)" text-anchor="end" font-size="15.5" font-family="Liberation Sans, sans-serif">0</text>
<text transform="translate(425.6,752.9) rotate(-45)" text-anchor="end" font-size="14.8" font-family="Liberation Sans, sans-serif">10<tspan font-size="10.5" dy="-5.5">2</tspan></text>
<text transform="translate(480.2,752.9) rotate(-45)" text-anchor="end" font-size="14.8" font-family="Liberation Sans, sans-serif">10<tspan font-size="10.5" dy="-5.5">3</tspan></text>
<text transform="translate(534.8,752.9) rotate(-45)" text-anchor="end" font-size="14.8" font-family="Liberation Sans, sans-serif">10<tspan font-size="10.5" dy="-5.5">4</tspan></text>
<rect x="538.5" y="503.1" width="14.6" height="11.4" fill="#c4c4c4" stroke="#000" stroke-width="2"/>
<rect x="538.5" y="521.6" width="14.6" height="11.4" fill="#575757" stroke="#000" stroke-width="2"/>
<text x="558" y="513.9" font-size="15" font-family="Liberation Sans, sans-serif">Total subset</text>
<text x="558" y="531.8" font-size="15" font-family="Liberation Sans, sans-serif">EdU<tspan font-size="10.5" dy="-2.2">+</tspan></text>
<text x="165.5" y="512.4" font-size="15.3" text-anchor="end" font-family="Liberation Sans, sans-serif">Ly6C<tspan font-size="10" dy="-4.2">hi</tspan><tspan dy="4.2"> mono</tspan></text>
<text x="165.5" y="539.6" font-size="15.3" text-anchor="end" font-family="Liberation Sans, sans-serif">Ly6C<tspan font-size="10" dy="-4.2">lo</tspan><tspan dy="4.2"> mono</tspan></text>
<text x="165.5" y="595" font-size="15.3" text-anchor="end" font-family="Liberation Sans, sans-serif">Ly6C<tspan font-size="10" dy="-4.2">hi</tspan><tspan dy="4.2"> mono</tspan></text>
<text x="165.5" y="622.6" font-size="15.3" text-anchor="end" font-family="Liberation Sans, sans-serif">Ly6C<tspan font-size="10" dy="-4.2">hi</tspan><tspan dy="4.2"> DC</tspan></text>
<text x="165.5" y="650.6" font-size="15.3" text-anchor="end" font-family="Liberation Sans, sans-serif">CD11b<tspan font-size="10" dy="-2.8">+</tspan><tspan dy="2.8"> DC</tspan></text>
<text x="165.5" y="677.9" font-size="15.3" text-anchor="end" font-family="Liberation Sans, sans-serif">RPM</text>
<text x="165.5" y="705.4" font-size="15.3" text-anchor="end" font-family="Liberation Sans, sans-serif">CD103<tspan font-size="10" dy="-2.8">+</tspan><tspan dy="2.8">/XCR1</tspan><tspan font-size="10" dy="-2.8">+</tspan><tspan dy="2.8"> DC</tspan></text>
<text x="165.5" y="732.9" font-size="15.3" text-anchor="end" font-family="Liberation Sans, sans-serif">AvM</text>
<text transform="translate(28.8,523.2) rotate(-90)" text-anchor="middle" font-size="15.4" font-family="Liberation Sans, sans-serif">Vasculature</text>
<text transform="translate(28.6,661.1) rotate(-90)" text-anchor="middle" font-size="15.3" font-family="Liberation Sans, sans-serif">Parenchyma</text>
<line x1="23.5" y1="586.8" x2="23.5" y2="615.5" stroke="#000" stroke-width="2.6"/>
<line x1="22.8" y1="705.9" x2="22.8" y2="734.2" stroke="#000" stroke-width="2.6"/>
</svg>
</body></html>
